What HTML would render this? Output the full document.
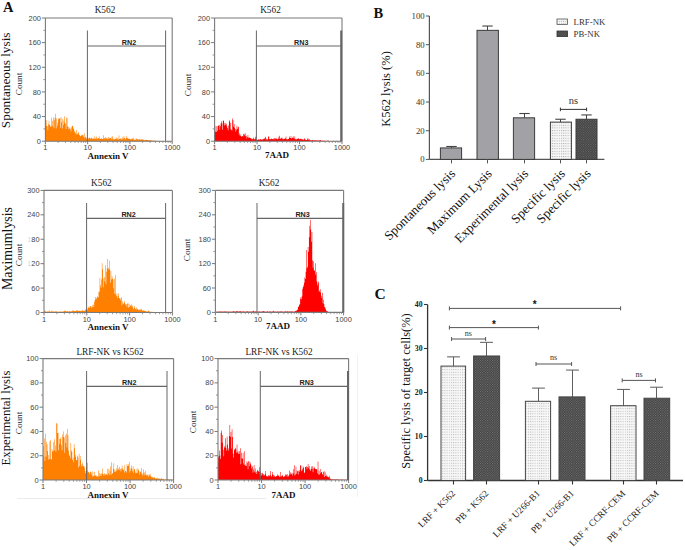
<!DOCTYPE html>
<html><head><meta charset="utf-8"><style>
html,body{margin:0;padding:0;background:#fff;}
body{width:685px;height:550px;overflow:hidden;}
svg{display:block;}
</style></head><body>
<svg width="685" height="550" viewBox="0 0 685 550">
<defs>
<pattern id="pl" width="2.2" height="2.6" patternUnits="userSpaceOnUse"><rect width="2.2" height="2.6" fill="#f7f7f7"/><rect width="1" height="1" fill="#aaaaaa"/></pattern>
<pattern id="pd" width="2.4" height="2.4" patternUnits="userSpaceOnUse"><rect width="2.4" height="2.4" fill="#3a3a3a"/><rect width="1" height="1" fill="#777"/><rect x="1.2" y="1.2" width="1" height="1" fill="#777"/></pattern>
<pattern id="cl" width="2.2" height="2.6" patternUnits="userSpaceOnUse"><rect width="2.2" height="2.6" fill="#f8f8f8"/><rect width="1" height="1" fill="#b8b8b8"/></pattern>
<pattern id="cd" width="2.4" height="2.4" patternUnits="userSpaceOnUse"><rect width="2.4" height="2.4" fill="#3c3c3c"/><rect width="1" height="1" fill="#808080"/><rect x="1.2" y="1.2" width="1" height="1" fill="#808080"/></pattern>
</defs>
<rect width="685" height="550" fill="#fff"/>
<path d="M45.40,141.20L45.40,120.39L45.95,120.39L45.95,120.21L46.50,120.21L46.50,125.97L47.05,125.97L47.05,125.98L47.61,125.98L47.61,130.26L48.16,130.26L48.16,124.18L48.71,124.18L48.71,121.06L49.26,121.06L49.26,124.86L49.81,124.86L49.81,125.32L50.36,125.32L50.36,126.88L50.91,126.88L50.91,126.55L51.46,126.55L51.46,117.84L52.02,117.84L52.02,120.87L52.57,120.87L52.57,126.33L53.12,126.33L53.12,117.56L53.67,117.56L53.67,128.18L54.22,128.18L54.22,119.73L54.77,119.73L54.77,117.81L55.32,117.81L55.32,113.70L55.87,113.70L55.87,128.57L56.43,128.57L56.43,118.24L56.98,118.24L56.98,125.84L57.53,125.84L57.53,122.48L58.08,122.48L58.08,119.16L58.63,119.16L58.63,118.15L59.18,118.15L59.18,118.46L59.73,118.46L59.73,118.13L60.29,118.13L60.29,127.73L60.84,127.73L60.84,117.07L61.39,117.07L61.39,122.25L61.94,122.25L61.94,128.62L62.49,128.62L62.49,119.07L63.04,119.07L63.04,125.11L63.59,125.11L63.59,120.46L64.14,120.46L64.14,116.32L64.70,116.32L64.70,122.83L65.25,122.83L65.25,123.74L65.80,123.74L65.80,129.02L66.35,129.02L66.35,117.62L66.90,117.62L66.90,118.22L67.45,118.22L67.45,126.49L68.00,126.49L68.00,127.07L68.55,127.07L68.55,129.31L69.11,129.31L69.11,128.50L69.66,128.50L69.66,127.20L70.21,127.20L70.21,129.20L70.76,129.20L70.76,131.45L71.31,131.45L71.31,127.58L71.86,127.58L71.86,126.03L72.41,126.03L72.41,125.78L72.97,125.78L72.97,129.07L73.52,129.07L73.52,127.86L74.07,127.86L74.07,130.86L74.62,130.86L74.62,132.49L75.17,132.49L75.17,132.55L75.72,132.55L75.72,134.17L76.27,134.17L76.27,129.88L76.82,129.88L76.82,134.54L77.38,134.54L77.38,133.16L77.93,133.16L77.93,133.44L78.48,133.44L78.48,131.91L79.03,131.91L79.03,134.88L79.58,134.88L79.58,135.33L80.13,135.33L80.13,136.37L80.68,136.37L80.68,136.12L81.23,136.12L81.23,135.31L81.79,135.31L81.79,134.85L82.34,134.85L82.34,135.22L82.89,135.22L82.89,135.00L83.44,135.00L83.44,136.68L83.99,136.68L83.99,132.98L84.54,132.98L84.54,138.24L85.09,138.24L85.09,136.73L85.65,136.73L85.65,137.08L86.20,137.08L86.20,138.80L86.75,138.80L86.75,138.48L87.30,138.48L87.30,137.89L87.85,137.89L87.85,138.15L88.40,138.15L88.40,138.78L88.95,138.78L88.95,137.95L89.50,137.95L89.50,137.70L90.06,137.70L90.06,138.22L90.61,138.22L90.61,138.94L91.16,138.94L91.16,137.77L91.71,137.77L91.71,137.68L92.26,137.68L92.26,138.84L92.81,138.84L92.81,138.80L93.36,138.80L93.36,138.57L93.91,138.57L93.91,136.13L94.47,136.13L94.47,138.98L95.02,138.98L95.02,138.69L95.57,138.69L95.57,137.83L96.12,137.83L96.12,136.55L96.67,136.55L96.67,139.03L97.22,139.03L97.22,138.40L97.77,138.40L97.77,138.36L98.33,138.36L98.33,138.12L98.88,138.12L98.88,136.28L99.43,136.28L99.43,138.65L99.98,138.65L99.98,139.12L100.53,139.12L100.53,138.82L101.08,138.82L101.08,138.43L101.63,138.43L101.63,138.20L102.18,138.20L102.18,139.02L102.74,139.02L102.74,139.09L103.29,139.09L103.29,135.25L103.84,135.25L103.84,138.15L104.39,138.15L104.39,138.45L104.94,138.45L104.94,136.91L105.49,136.91L105.49,138.53L106.04,138.53L106.04,137.85L106.59,137.85L106.59,138.65L107.15,138.65L107.15,138.28L107.70,138.28L107.70,139.33L108.25,139.33L108.25,136.98L108.80,136.98L108.80,138.62L109.35,138.62L109.35,137.88L109.90,137.88L109.90,138.17L110.45,138.17L110.45,138.09L111.01,138.09L111.01,139.54L111.56,139.54L111.56,136.64L112.11,136.64L112.11,136.16L112.66,136.16L112.66,139.13L113.21,139.13L113.21,139.42L113.76,139.42L113.76,138.46L114.31,138.46L114.31,139.54L114.86,139.54L114.86,138.41L115.42,138.41L115.42,138.93L115.97,138.93L115.97,137.27L116.52,137.27L116.52,138.89L117.07,138.89L117.07,138.08L117.62,138.08L117.62,139.58L118.17,139.58L118.17,139.51L118.72,139.51L118.72,135.53L119.27,135.53L119.27,139.04L119.83,139.04L119.83,138.96L120.38,138.96L120.38,138.13L120.93,138.13L120.93,139.49L121.48,139.49L121.48,138.57L122.03,138.57L122.03,137.28L122.58,137.28L122.58,139.48L123.13,139.48L123.13,138.60L123.69,138.60L123.69,135.93L124.24,135.93L124.24,138.10L124.79,138.10L124.79,138.48L125.34,138.48L125.34,139.61L125.89,139.61L125.89,135.66L126.44,135.66L126.44,138.07L126.99,138.07L126.99,138.39L127.54,138.39L127.54,137.25L128.10,137.25L128.10,138.75L128.65,138.75L128.65,138.84L129.20,138.84L129.20,138.71L129.75,138.71L129.75,138.92L130.30,138.92L130.30,139.61L130.85,139.61L130.85,138.82L131.40,138.82L131.40,139.35L131.95,139.35L131.95,138.29L132.51,138.29L132.51,138.89L133.06,138.89L133.06,137.83L133.61,137.83L133.61,139.63L134.16,139.63L134.16,139.85L134.71,139.85L134.71,139.79L135.26,139.79L135.26,139.83L135.81,139.83L135.81,138.05L136.37,138.05L136.37,139.15L136.92,139.15L136.92,139.61L137.47,139.61L137.47,138.90L138.02,138.90L138.02,139.85L138.57,139.85L138.57,138.97L139.12,138.97L139.12,139.27L139.67,139.27L139.67,139.78L140.22,139.78L140.22,139.47L140.78,139.47L140.78,139.48L141.33,139.48L141.33,139.25L141.88,139.25L141.88,139.13L142.43,139.13L142.43,139.85L142.98,139.85L142.98,139.71L143.53,139.71L143.53,139.62L144.08,139.62L144.08,140.26L144.63,140.26L144.63,140.29L145.19,140.29L145.19,139.63L145.74,139.63L145.74,139.83L146.29,139.83L146.29,140.08L146.84,140.08L146.84,139.98L147.39,139.98L147.39,140.01L147.94,140.01L147.94,140.30L148.49,140.30L148.49,140.30L149.05,140.30L149.05,140.02L149.60,140.02L149.60,140.17L150.15,140.17L150.15,140.18L150.70,140.18L150.70,140.23L151.25,140.23L151.25,140.54L151.80,140.54L151.80,140.53L152.35,140.53L152.35,140.77L152.90,140.77L152.90,140.58L153.46,140.58L153.46,140.47L154.01,140.47L154.01,140.76L154.56,140.76L154.56,140.72L155.11,140.72L155.11,140.81L155.66,140.81L155.66,140.63L156.21,140.63L156.21,140.86L156.76,140.86L156.76,140.90L157.31,140.90L157.31,140.84L157.87,140.84L157.87,140.91L158.42,140.91L158.42,140.97L158.97,140.97L158.97,141.02L159.52,141.02L159.52,140.78L160.07,140.78L160.07,140.95L160.62,140.95L160.62,141.07L161.17,141.07L161.17,141.04L161.73,141.04L161.73,141.02L162.28,141.02L162.28,141.05L162.83,141.05L162.83,141.06L163.38,141.06L163.38,141.09L163.93,141.09L163.93,141.06L164.48,141.06L164.48,141.03L165.03,141.03L165.03,141.06L165.58,141.06L165.58,141.09L166.14,141.09L166.14,140.95L166.69,140.95L166.69,141.06L167.24,141.06L167.24,141.11L167.79,141.11L167.79,141.07L168.34,141.07L168.34,141.04L168.89,141.04L168.89,141.10L169.44,141.10L169.44,141.05L169.99,141.05L169.99,141.06L170.55,141.06L170.55,141.10L171.10,141.10L171.10,141.06L171.65,141.06L171.65,141.02L172.20,141.02L172.20,141.20Z" fill="#ff8000"/>
<line x1="45.40" y1="18.00" x2="172.20" y2="18.00" stroke="#7a7a7a" stroke-width="1.1"/>
<line x1="172.20" y1="18.00" x2="172.20" y2="141.20" stroke="#7a7a7a" stroke-width="1.1"/>
<line x1="45.40" y1="18.00" x2="45.40" y2="141.20" stroke="#7a7a7a" stroke-width="1.1"/>
<line x1="45.40" y1="141.20" x2="172.20" y2="141.20" stroke="#7a7a7a" stroke-width="1.1"/>
<line x1="41.90" y1="141.20" x2="45.40" y2="141.20" stroke="#7a7a7a" stroke-width="1"/>
<text x="40.90" y="143.80" font-family='"Liberation Sans", sans-serif' font-size="7.4" font-weight="normal" text-anchor="end" fill="#444">0</text>
<line x1="43.40" y1="128.88" x2="45.40" y2="128.88" stroke="#7a7a7a" stroke-width="0.8"/>
<line x1="41.90" y1="116.56" x2="45.40" y2="116.56" stroke="#7a7a7a" stroke-width="1"/>
<text x="40.90" y="119.16" font-family='"Liberation Sans", sans-serif' font-size="7.4" font-weight="normal" text-anchor="end" fill="#444">40</text>
<line x1="43.40" y1="104.24" x2="45.40" y2="104.24" stroke="#7a7a7a" stroke-width="0.8"/>
<line x1="41.90" y1="91.92" x2="45.40" y2="91.92" stroke="#7a7a7a" stroke-width="1"/>
<text x="40.90" y="94.52" font-family='"Liberation Sans", sans-serif' font-size="7.4" font-weight="normal" text-anchor="end" fill="#444">80</text>
<line x1="43.40" y1="79.60" x2="45.40" y2="79.60" stroke="#7a7a7a" stroke-width="0.8"/>
<line x1="41.90" y1="67.28" x2="45.40" y2="67.28" stroke="#7a7a7a" stroke-width="1"/>
<text x="40.90" y="69.88" font-family='"Liberation Sans", sans-serif' font-size="7.4" font-weight="normal" text-anchor="end" fill="#444">120</text>
<line x1="43.40" y1="54.96" x2="45.40" y2="54.96" stroke="#7a7a7a" stroke-width="0.8"/>
<line x1="41.90" y1="42.64" x2="45.40" y2="42.64" stroke="#7a7a7a" stroke-width="1"/>
<text x="40.90" y="45.24" font-family='"Liberation Sans", sans-serif' font-size="7.4" font-weight="normal" text-anchor="end" fill="#444">160</text>
<line x1="43.40" y1="30.32" x2="45.40" y2="30.32" stroke="#7a7a7a" stroke-width="0.8"/>
<line x1="41.90" y1="18.00" x2="45.40" y2="18.00" stroke="#7a7a7a" stroke-width="1"/>
<text x="40.90" y="20.60" font-family='"Liberation Sans", sans-serif' font-size="7.4" font-weight="normal" text-anchor="end" fill="#444">200</text>
<line x1="45.40" y1="141.20" x2="45.40" y2="144.20" stroke="#7a7a7a" stroke-width="1"/>
<text x="45.40" y="150.40" font-family='"Liberation Sans", sans-serif' font-size="7.4" font-weight="normal" text-anchor="middle" fill="#444">1</text>
<line x1="58.12" y1="141.20" x2="58.12" y2="143.00" stroke="#7a7a7a" stroke-width="0.7"/>
<line x1="65.57" y1="141.20" x2="65.57" y2="143.00" stroke="#7a7a7a" stroke-width="0.7"/>
<line x1="70.85" y1="141.20" x2="70.85" y2="143.00" stroke="#7a7a7a" stroke-width="0.7"/>
<line x1="74.94" y1="141.20" x2="74.94" y2="143.00" stroke="#7a7a7a" stroke-width="0.7"/>
<line x1="78.29" y1="141.20" x2="78.29" y2="143.00" stroke="#7a7a7a" stroke-width="0.7"/>
<line x1="81.12" y1="141.20" x2="81.12" y2="143.00" stroke="#7a7a7a" stroke-width="0.7"/>
<line x1="83.57" y1="141.20" x2="83.57" y2="143.00" stroke="#7a7a7a" stroke-width="0.7"/>
<line x1="85.73" y1="141.20" x2="85.73" y2="143.00" stroke="#7a7a7a" stroke-width="0.7"/>
<line x1="87.67" y1="141.20" x2="87.67" y2="144.20" stroke="#7a7a7a" stroke-width="1"/>
<text x="87.67" y="150.40" font-family='"Liberation Sans", sans-serif' font-size="7.4" font-weight="normal" text-anchor="middle" fill="#444">10</text>
<line x1="100.39" y1="141.20" x2="100.39" y2="143.00" stroke="#7a7a7a" stroke-width="0.7"/>
<line x1="107.83" y1="141.20" x2="107.83" y2="143.00" stroke="#7a7a7a" stroke-width="0.7"/>
<line x1="113.11" y1="141.20" x2="113.11" y2="143.00" stroke="#7a7a7a" stroke-width="0.7"/>
<line x1="117.21" y1="141.20" x2="117.21" y2="143.00" stroke="#7a7a7a" stroke-width="0.7"/>
<line x1="120.56" y1="141.20" x2="120.56" y2="143.00" stroke="#7a7a7a" stroke-width="0.7"/>
<line x1="123.39" y1="141.20" x2="123.39" y2="143.00" stroke="#7a7a7a" stroke-width="0.7"/>
<line x1="125.84" y1="141.20" x2="125.84" y2="143.00" stroke="#7a7a7a" stroke-width="0.7"/>
<line x1="128.00" y1="141.20" x2="128.00" y2="143.00" stroke="#7a7a7a" stroke-width="0.7"/>
<line x1="129.93" y1="141.20" x2="129.93" y2="144.20" stroke="#7a7a7a" stroke-width="1"/>
<text x="129.93" y="150.40" font-family='"Liberation Sans", sans-serif' font-size="7.4" font-weight="normal" text-anchor="middle" fill="#444">100</text>
<line x1="142.66" y1="141.20" x2="142.66" y2="143.00" stroke="#7a7a7a" stroke-width="0.7"/>
<line x1="150.10" y1="141.20" x2="150.10" y2="143.00" stroke="#7a7a7a" stroke-width="0.7"/>
<line x1="155.38" y1="141.20" x2="155.38" y2="143.00" stroke="#7a7a7a" stroke-width="0.7"/>
<line x1="159.48" y1="141.20" x2="159.48" y2="143.00" stroke="#7a7a7a" stroke-width="0.7"/>
<line x1="162.82" y1="141.20" x2="162.82" y2="143.00" stroke="#7a7a7a" stroke-width="0.7"/>
<line x1="165.65" y1="141.20" x2="165.65" y2="143.00" stroke="#7a7a7a" stroke-width="0.7"/>
<line x1="168.10" y1="141.20" x2="168.10" y2="143.00" stroke="#7a7a7a" stroke-width="0.7"/>
<line x1="170.27" y1="141.20" x2="170.27" y2="143.00" stroke="#7a7a7a" stroke-width="0.7"/>
<line x1="172.20" y1="141.20" x2="172.20" y2="144.20" stroke="#7a7a7a" stroke-width="1"/>
<text x="172.20" y="150.40" font-family='"Liberation Sans", sans-serif' font-size="7.4" font-weight="normal" text-anchor="middle" fill="#444">1000</text>
<line x1="87.40" y1="30.50" x2="87.40" y2="141.20" stroke="#666" stroke-width="1"/>
<line x1="165.60" y1="30.50" x2="165.60" y2="141.20" stroke="#666" stroke-width="1"/>
<line x1="87.40" y1="46.00" x2="165.60" y2="46.00" stroke="#666" stroke-width="1.1"/>
<text x="129.00" y="44.90" font-family='"Liberation Sans", sans-serif' font-size="7.2" font-weight="bold" text-anchor="middle" fill="#222">RN2</text>
<text x="105.00" y="12.50" font-family='"Liberation Serif", serif' font-size="9.3" font-weight="normal" text-anchor="middle" fill="#222">K562</text>
<text x="108.00" y="158.50" font-family='"Liberation Serif", serif' font-size="9" font-weight="bold" text-anchor="middle" fill="#111">Annexin V</text>
<text x="22.00" y="84.00" font-family='"Liberation Serif", serif' font-size="9.2" font-weight="normal" text-anchor="middle" fill="#222" transform="rotate(-90 22 84)">Count</text>
<path d="M214.60,141.20L214.60,130.33L215.15,130.33L215.15,132.03L215.70,132.03L215.70,126.00L216.25,126.00L216.25,132.08L216.81,132.08L216.81,126.19L217.36,126.19L217.36,130.87L217.91,130.87L217.91,125.61L218.46,125.61L218.46,125.74L219.01,125.74L219.01,125.00L219.56,125.00L219.56,129.86L220.12,129.86L220.12,126.28L220.67,126.28L220.67,123.18L221.22,123.18L221.22,121.23L221.77,121.23L221.77,123.41L222.32,123.41L222.32,129.71L222.87,129.71L222.87,120.58L223.42,120.58L223.42,120.63L223.98,120.63L223.98,125.52L224.53,125.52L224.53,123.01L225.08,123.01L225.08,124.72L225.63,124.72L225.63,122.78L226.18,122.78L226.18,124.36L226.73,124.36L226.73,126.42L227.28,126.42L227.28,128.01L227.84,128.01L227.84,130.21L228.39,130.21L228.39,125.58L228.94,125.58L228.94,121.50L229.49,121.50L229.49,120.19L230.04,120.19L230.04,122.82L230.59,122.82L230.59,129.28L231.15,129.28L231.15,129.68L231.70,129.68L231.70,130.62L232.25,130.62L232.25,118.49L232.80,118.49L232.80,120.35L233.35,120.35L233.35,126.38L233.90,126.38L233.90,123.95L234.45,123.95L234.45,127.86L235.01,127.86L235.01,128.98L235.56,128.98L235.56,131.80L236.11,131.80L236.11,129.63L236.66,129.63L236.66,125.75L237.21,125.75L237.21,129.05L237.76,129.05L237.76,127.23L238.32,127.23L238.32,126.73L238.87,126.73L238.87,135.27L239.42,135.27L239.42,133.34L239.97,133.34L239.97,135.94L240.52,135.94L240.52,134.62L241.07,134.62L241.07,136.76L241.62,136.76L241.62,136.14L242.18,136.14L242.18,136.12L242.73,136.12L242.73,136.44L243.28,136.44L243.28,134.07L243.83,134.07L243.83,133.83L244.38,133.83L244.38,135.33L244.93,135.33L244.93,133.30L245.48,133.30L245.48,136.20L246.04,136.20L246.04,135.85L246.59,135.85L246.59,138.45L247.14,138.45L247.14,137.10L247.69,137.10L247.69,134.92L248.24,134.92L248.24,137.99L248.79,137.99L248.79,137.11L249.35,137.11L249.35,137.85L249.90,137.85L249.90,138.29L250.45,138.29L250.45,137.99L251.00,137.99L251.00,139.25L251.55,139.25L251.55,138.34L252.10,138.34L252.10,139.15L252.65,139.15L252.65,139.07L253.21,139.07L253.21,137.56L253.76,137.56L253.76,138.68L254.31,138.68L254.31,139.44L254.86,139.44L254.86,138.75L255.41,138.75L255.41,136.83L255.96,136.83L255.96,139.76L256.52,139.76L256.52,139.73L257.07,139.73L257.07,140.08L257.62,140.08L257.62,139.48L258.17,139.48L258.17,139.33L258.72,139.33L258.72,139.83L259.27,139.83L259.27,139.63L259.82,139.63L259.82,138.90L260.38,138.90L260.38,139.14L260.93,139.14L260.93,139.70L261.48,139.70L261.48,139.48L262.03,139.48L262.03,139.15L262.58,139.15L262.58,139.78L263.13,139.78L263.13,139.05L263.68,139.05L263.68,138.69L264.24,138.69L264.24,138.70L264.79,138.70L264.79,137.82L265.34,137.82L265.34,136.71L265.89,136.71L265.89,139.85L266.44,139.85L266.44,138.78L266.99,138.78L266.99,139.43L267.55,139.43L267.55,139.46L268.10,139.46L268.10,136.56L268.65,136.56L268.65,136.59L269.20,136.59L269.20,139.00L269.75,139.00L269.75,139.37L270.30,139.37L270.30,139.17L270.85,139.17L270.85,138.95L271.41,138.95L271.41,138.40L271.96,138.40L271.96,139.22L272.51,139.22L272.51,139.09L273.06,139.09L273.06,138.41L273.61,138.41L273.61,139.62L274.16,139.62L274.16,137.97L274.72,137.97L274.72,139.34L275.27,139.34L275.27,138.54L275.82,138.54L275.82,137.86L276.37,137.86L276.37,139.11L276.92,139.11L276.92,138.75L277.47,138.75L277.47,139.40L278.02,139.40L278.02,138.84L278.58,138.84L278.58,136.87L279.13,136.87L279.13,135.85L279.68,135.85L279.68,139.06L280.23,139.06L280.23,138.72L280.78,138.72L280.78,137.78L281.33,137.78L281.33,138.31L281.88,138.31L281.88,137.77L282.44,137.77L282.44,139.21L282.99,139.21L282.99,139.21L283.54,139.21L283.54,138.94L284.09,138.94L284.09,138.66L284.64,138.66L284.64,138.73L285.19,138.73L285.19,138.15L285.75,138.15L285.75,136.57L286.30,136.57L286.30,139.17L286.85,139.17L286.85,139.17L287.40,139.17L287.40,139.40L287.95,139.40L287.95,138.83L288.50,138.83L288.50,139.10L289.05,139.10L289.05,136.50L289.61,136.50L289.61,137.96L290.16,137.96L290.16,137.94L290.71,137.94L290.71,136.07L291.26,136.07L291.26,138.69L291.81,138.69L291.81,137.85L292.36,137.85L292.36,137.76L292.92,137.76L292.92,136.27L293.47,136.27L293.47,138.19L294.02,138.19L294.02,138.60L294.57,138.60L294.57,136.53L295.12,136.53L295.12,139.32L295.67,139.32L295.67,139.13L296.22,139.13L296.22,139.38L296.78,139.38L296.78,138.47L297.33,138.47L297.33,139.03L297.88,139.03L297.88,138.74L298.43,138.74L298.43,138.31L298.98,138.31L298.98,138.79L299.53,138.79L299.53,139.38L300.08,139.38L300.08,138.84L300.64,138.84L300.64,139.04L301.19,139.04L301.19,138.68L301.74,138.68L301.74,139.83L302.29,139.83L302.29,138.89L302.84,138.89L302.84,139.67L303.39,139.67L303.39,139.84L303.95,139.84L303.95,138.13L304.50,138.13L304.50,139.37L305.05,139.37L305.05,139.37L305.60,139.37L305.60,140.07L306.15,140.07L306.15,139.98L306.70,139.98L306.70,140.06L307.25,140.06L307.25,138.50L307.81,138.50L307.81,138.43L308.36,138.43L308.36,139.76L308.91,139.76L308.91,138.88L309.46,138.88L309.46,140.36L310.01,140.36L310.01,140.37L310.56,140.37L310.56,140.22L311.12,140.22L311.12,140.42L311.67,140.42L311.67,139.98L312.22,139.98L312.22,140.24L312.77,140.24L312.77,140.11L313.32,140.11L313.32,140.40L313.87,140.40L313.87,140.49L314.42,140.49L314.42,140.26L314.98,140.26L314.98,140.26L315.53,140.26L315.53,140.18L316.08,140.18L316.08,140.56L316.63,140.56L316.63,140.25L317.18,140.25L317.18,140.63L317.73,140.63L317.73,140.30L318.28,140.30L318.28,140.55L318.84,140.55L318.84,140.37L319.39,140.37L319.39,140.56L319.94,140.56L319.94,140.26L320.49,140.26L320.49,140.01L321.04,140.01L321.04,140.81L321.59,140.81L321.59,140.81L322.15,140.81L322.15,140.57L322.70,140.57L322.70,140.82L323.25,140.82L323.25,140.79L323.80,140.79L323.80,140.83L324.35,140.83L324.35,140.85L324.90,140.85L324.90,140.77L325.45,140.77L325.45,140.93L326.01,140.93L326.01,140.71L326.56,140.71L326.56,140.93L327.11,140.93L327.11,140.61L327.66,140.61L327.66,140.99L328.21,140.99L328.21,140.59L328.76,140.59L328.76,140.93L329.32,140.93L329.32,140.98L329.87,140.98L329.87,140.96L330.42,140.96L330.42,140.98L330.97,140.98L330.97,140.92L331.52,140.92L331.52,141.05L332.07,141.05L332.07,140.95L332.62,140.95L332.62,141.04L333.18,141.04L333.18,140.81L333.73,140.81L333.73,140.97L334.28,140.97L334.28,140.99L334.83,140.99L334.83,140.99L335.38,140.99L335.38,141.04L335.93,141.04L335.93,140.87L336.48,140.87L336.48,140.95L337.04,140.95L337.04,141.09L337.59,141.09L337.59,141.02L338.14,141.02L338.14,141.03L338.69,141.03L338.69,141.11L339.24,141.11L339.24,141.05L339.79,141.05L339.79,141.10L340.35,141.10L340.35,141.09L340.90,141.09L340.90,141.09L341.45,141.09L341.45,141.07L342.00,141.07L342.00,141.20Z" fill="#ff0000"/>
<line x1="214.60" y1="18.00" x2="342.00" y2="18.00" stroke="#7a7a7a" stroke-width="1.1"/>
<line x1="342.00" y1="18.00" x2="342.00" y2="141.20" stroke="#7a7a7a" stroke-width="1.1"/>
<line x1="214.60" y1="18.00" x2="214.60" y2="141.20" stroke="#7a7a7a" stroke-width="1.1"/>
<line x1="214.60" y1="141.20" x2="342.00" y2="141.20" stroke="#7a7a7a" stroke-width="1.1"/>
<line x1="211.10" y1="141.20" x2="214.60" y2="141.20" stroke="#7a7a7a" stroke-width="1"/>
<text x="210.10" y="143.80" font-family='"Liberation Sans", sans-serif' font-size="7.4" font-weight="normal" text-anchor="end" fill="#444">0</text>
<line x1="212.60" y1="128.88" x2="214.60" y2="128.88" stroke="#7a7a7a" stroke-width="0.8"/>
<line x1="211.10" y1="116.56" x2="214.60" y2="116.56" stroke="#7a7a7a" stroke-width="1"/>
<text x="210.10" y="119.16" font-family='"Liberation Sans", sans-serif' font-size="7.4" font-weight="normal" text-anchor="end" fill="#444">40</text>
<line x1="212.60" y1="104.24" x2="214.60" y2="104.24" stroke="#7a7a7a" stroke-width="0.8"/>
<line x1="211.10" y1="91.92" x2="214.60" y2="91.92" stroke="#7a7a7a" stroke-width="1"/>
<text x="210.10" y="94.52" font-family='"Liberation Sans", sans-serif' font-size="7.4" font-weight="normal" text-anchor="end" fill="#444">80</text>
<line x1="212.60" y1="79.60" x2="214.60" y2="79.60" stroke="#7a7a7a" stroke-width="0.8"/>
<line x1="211.10" y1="67.28" x2="214.60" y2="67.28" stroke="#7a7a7a" stroke-width="1"/>
<text x="210.10" y="69.88" font-family='"Liberation Sans", sans-serif' font-size="7.4" font-weight="normal" text-anchor="end" fill="#444">120</text>
<line x1="212.60" y1="54.96" x2="214.60" y2="54.96" stroke="#7a7a7a" stroke-width="0.8"/>
<line x1="211.10" y1="42.64" x2="214.60" y2="42.64" stroke="#7a7a7a" stroke-width="1"/>
<text x="210.10" y="45.24" font-family='"Liberation Sans", sans-serif' font-size="7.4" font-weight="normal" text-anchor="end" fill="#444">160</text>
<line x1="212.60" y1="30.32" x2="214.60" y2="30.32" stroke="#7a7a7a" stroke-width="0.8"/>
<line x1="211.10" y1="18.00" x2="214.60" y2="18.00" stroke="#7a7a7a" stroke-width="1"/>
<text x="210.10" y="20.60" font-family='"Liberation Sans", sans-serif' font-size="7.4" font-weight="normal" text-anchor="end" fill="#444">200</text>
<line x1="214.60" y1="141.20" x2="214.60" y2="144.20" stroke="#7a7a7a" stroke-width="1"/>
<text x="214.60" y="150.40" font-family='"Liberation Sans", sans-serif' font-size="7.4" font-weight="normal" text-anchor="middle" fill="#444">1</text>
<line x1="227.38" y1="141.20" x2="227.38" y2="143.00" stroke="#7a7a7a" stroke-width="0.7"/>
<line x1="234.86" y1="141.20" x2="234.86" y2="143.00" stroke="#7a7a7a" stroke-width="0.7"/>
<line x1="240.17" y1="141.20" x2="240.17" y2="143.00" stroke="#7a7a7a" stroke-width="0.7"/>
<line x1="244.28" y1="141.20" x2="244.28" y2="143.00" stroke="#7a7a7a" stroke-width="0.7"/>
<line x1="247.65" y1="141.20" x2="247.65" y2="143.00" stroke="#7a7a7a" stroke-width="0.7"/>
<line x1="250.49" y1="141.20" x2="250.49" y2="143.00" stroke="#7a7a7a" stroke-width="0.7"/>
<line x1="252.95" y1="141.20" x2="252.95" y2="143.00" stroke="#7a7a7a" stroke-width="0.7"/>
<line x1="255.12" y1="141.20" x2="255.12" y2="143.00" stroke="#7a7a7a" stroke-width="0.7"/>
<line x1="257.07" y1="141.20" x2="257.07" y2="144.20" stroke="#7a7a7a" stroke-width="1"/>
<text x="257.07" y="150.40" font-family='"Liberation Sans", sans-serif' font-size="7.4" font-weight="normal" text-anchor="middle" fill="#444">10</text>
<line x1="269.85" y1="141.20" x2="269.85" y2="143.00" stroke="#7a7a7a" stroke-width="0.7"/>
<line x1="277.33" y1="141.20" x2="277.33" y2="143.00" stroke="#7a7a7a" stroke-width="0.7"/>
<line x1="282.63" y1="141.20" x2="282.63" y2="143.00" stroke="#7a7a7a" stroke-width="0.7"/>
<line x1="286.75" y1="141.20" x2="286.75" y2="143.00" stroke="#7a7a7a" stroke-width="0.7"/>
<line x1="290.11" y1="141.20" x2="290.11" y2="143.00" stroke="#7a7a7a" stroke-width="0.7"/>
<line x1="292.96" y1="141.20" x2="292.96" y2="143.00" stroke="#7a7a7a" stroke-width="0.7"/>
<line x1="295.42" y1="141.20" x2="295.42" y2="143.00" stroke="#7a7a7a" stroke-width="0.7"/>
<line x1="297.59" y1="141.20" x2="297.59" y2="143.00" stroke="#7a7a7a" stroke-width="0.7"/>
<line x1="299.53" y1="141.20" x2="299.53" y2="144.20" stroke="#7a7a7a" stroke-width="1"/>
<text x="299.53" y="150.40" font-family='"Liberation Sans", sans-serif' font-size="7.4" font-weight="normal" text-anchor="middle" fill="#444">100</text>
<line x1="312.32" y1="141.20" x2="312.32" y2="143.00" stroke="#7a7a7a" stroke-width="0.7"/>
<line x1="319.80" y1="141.20" x2="319.80" y2="143.00" stroke="#7a7a7a" stroke-width="0.7"/>
<line x1="325.10" y1="141.20" x2="325.10" y2="143.00" stroke="#7a7a7a" stroke-width="0.7"/>
<line x1="329.22" y1="141.20" x2="329.22" y2="143.00" stroke="#7a7a7a" stroke-width="0.7"/>
<line x1="332.58" y1="141.20" x2="332.58" y2="143.00" stroke="#7a7a7a" stroke-width="0.7"/>
<line x1="335.42" y1="141.20" x2="335.42" y2="143.00" stroke="#7a7a7a" stroke-width="0.7"/>
<line x1="337.88" y1="141.20" x2="337.88" y2="143.00" stroke="#7a7a7a" stroke-width="0.7"/>
<line x1="340.06" y1="141.20" x2="340.06" y2="143.00" stroke="#7a7a7a" stroke-width="0.7"/>
<line x1="342.00" y1="141.20" x2="342.00" y2="144.20" stroke="#7a7a7a" stroke-width="1"/>
<text x="342.00" y="150.40" font-family='"Liberation Sans", sans-serif' font-size="7.4" font-weight="normal" text-anchor="middle" fill="#444">1000</text>
<line x1="256.40" y1="30.50" x2="256.40" y2="141.20" stroke="#666" stroke-width="1"/>
<line x1="341.20" y1="30.50" x2="341.20" y2="141.20" stroke="#666" stroke-width="2"/>
<line x1="256.40" y1="46.00" x2="341.20" y2="46.00" stroke="#666" stroke-width="1.1"/>
<text x="301.30" y="44.90" font-family='"Liberation Sans", sans-serif' font-size="7.2" font-weight="bold" text-anchor="middle" fill="#222">RN3</text>
<text x="270.50" y="12.50" font-family='"Liberation Serif", serif' font-size="9.3" font-weight="normal" text-anchor="middle" fill="#222">K562</text>
<text x="277.00" y="158.00" font-family='"Liberation Serif", serif' font-size="9" font-weight="bold" text-anchor="middle" fill="#111">7AAD</text>
<text x="191.00" y="85.00" font-family='"Liberation Serif", serif' font-size="9.2" font-weight="normal" text-anchor="middle" fill="#222" transform="rotate(-90 191 85)">Count</text>
<path d="M44.00,312.50L44.00,311.00L44.55,311.00L44.55,311.58L45.10,311.58L45.10,310.85L45.65,310.85L45.65,311.83L46.20,311.83L46.20,311.86L46.76,311.86L46.76,311.60L47.31,311.60L47.31,311.55L47.86,311.55L47.86,311.31L48.41,311.31L48.41,311.50L48.96,311.50L48.96,311.73L49.51,311.73L49.51,310.37L50.06,310.37L50.06,311.70L50.61,311.70L50.61,311.52L51.16,311.52L51.16,311.40L51.72,311.40L51.72,310.54L52.27,310.54L52.27,311.84L52.82,311.84L52.82,311.28L53.37,311.28L53.37,311.47L53.92,311.47L53.92,311.39L54.47,311.39L54.47,311.74L55.02,311.74L55.02,311.44L55.57,311.44L55.57,311.32L56.12,311.32L56.12,311.36L56.67,311.36L56.67,311.80L57.23,311.80L57.23,311.60L57.78,311.60L57.78,311.77L58.33,311.77L58.33,311.66L58.88,311.66L58.88,311.67L59.43,311.67L59.43,311.58L59.98,311.58L59.98,311.72L60.53,311.72L60.53,311.32L61.08,311.32L61.08,311.45L61.63,311.45L61.63,311.70L62.19,311.70L62.19,311.72L62.74,311.72L62.74,311.39L63.29,311.39L63.29,311.14L63.84,311.14L63.84,311.26L64.39,311.26L64.39,310.61L64.94,310.61L64.94,310.75L65.49,310.75L65.49,311.17L66.04,311.17L66.04,311.57L66.59,311.57L66.59,311.11L67.15,311.11L67.15,311.18L67.70,311.18L67.70,311.28L68.25,311.28L68.25,311.67L68.80,311.67L68.80,311.38L69.35,311.38L69.35,311.08L69.90,311.08L69.90,311.18L70.45,311.18L70.45,311.45L71.00,311.45L71.00,311.50L71.55,311.50L71.55,311.07L72.10,311.07L72.10,311.18L72.66,311.18L72.66,309.65L73.21,309.65L73.21,310.76L73.76,310.76L73.76,311.11L74.31,311.11L74.31,311.07L74.86,311.07L74.86,311.09L75.41,311.09L75.41,311.36L75.96,311.36L75.96,310.38L76.51,310.38L76.51,310.55L77.06,310.55L77.06,310.39L77.62,310.39L77.62,310.39L78.17,310.39L78.17,311.05L78.72,311.05L78.72,310.91L79.27,310.91L79.27,310.59L79.82,310.59L79.82,310.50L80.37,310.50L80.37,311.15L80.92,311.15L80.92,310.74L81.47,310.74L81.47,311.12L82.02,311.12L82.02,310.51L82.58,310.51L82.58,310.27L83.13,310.27L83.13,310.90L83.68,310.90L83.68,310.81L84.23,310.81L84.23,310.68L84.78,310.68L84.78,310.65L85.33,310.65L85.33,309.30L85.88,309.30L85.88,310.06L86.43,310.06L86.43,309.01L86.98,309.01L86.98,310.22L87.53,310.22L87.53,308.21L88.09,308.21L88.09,306.82L88.64,306.82L88.64,307.69L89.19,307.69L89.19,308.00L89.74,308.00L89.74,305.93L90.29,305.93L90.29,306.21L90.84,306.21L90.84,306.47L91.39,306.47L91.39,307.73L91.94,307.73L91.94,307.27L92.49,307.27L92.49,304.92L93.05,304.92L93.05,304.43L93.60,304.43L93.60,306.91L94.15,306.91L94.15,301.83L94.70,301.83L94.70,299.83L95.25,299.83L95.25,296.93L95.80,296.93L95.80,299.24L96.35,299.24L96.35,298.21L96.90,298.21L96.90,296.80L97.45,296.80L97.45,296.50L98.01,296.50L98.01,297.40L98.56,297.40L98.56,291.79L99.11,291.79L99.11,291.72L99.66,291.72L99.66,277.66L100.21,277.66L100.21,285.13L100.76,285.13L100.76,287.74L101.31,287.74L101.31,279.32L101.86,279.32L101.86,263.37L102.41,263.37L102.41,269.16L102.96,269.16L102.96,287.26L103.52,287.26L103.52,278.43L104.07,278.43L104.07,277.10L104.62,277.10L104.62,281.61L105.17,281.61L105.17,265.12L105.72,265.12L105.72,284.29L106.27,284.29L106.27,271.81L106.82,271.81L106.82,268.31L107.37,268.31L107.37,259.07L107.92,259.07L107.92,269.62L108.48,269.62L108.48,267.83L109.03,267.83L109.03,260.51L109.58,260.51L109.58,269.38L110.13,269.38L110.13,282.66L110.68,282.66L110.68,271.01L111.23,271.01L111.23,279.40L111.78,279.40L111.78,276.12L112.33,276.12L112.33,278.48L112.88,278.48L112.88,279.53L113.44,279.53L113.44,288.21L113.99,288.21L113.99,278.59L114.54,278.59L114.54,293.87L115.09,293.87L115.09,275.05L115.64,275.05L115.64,294.50L116.19,294.50L116.19,296.15L116.74,296.15L116.74,293.26L117.29,293.26L117.29,298.10L117.84,298.10L117.84,296.03L118.39,296.03L118.39,293.43L118.95,293.43L118.95,297.98L119.50,297.98L119.50,298.58L120.05,298.58L120.05,300.33L120.60,300.33L120.60,298.37L121.15,298.37L121.15,297.36L121.70,297.36L121.70,305.50L122.25,305.50L122.25,301.47L122.80,301.47L122.80,303.53L123.35,303.53L123.35,303.88L123.91,303.88L123.91,302.79L124.46,302.79L124.46,301.08L125.01,301.08L125.01,304.85L125.56,304.85L125.56,303.65L126.11,303.65L126.11,304.21L126.66,304.21L126.66,306.98L127.21,306.98L127.21,303.68L127.76,303.68L127.76,302.78L128.31,302.78L128.31,307.67L128.87,307.67L128.87,303.98L129.42,303.98L129.42,307.06L129.97,307.06L129.97,305.39L130.52,305.39L130.52,305.60L131.07,305.60L131.07,304.27L131.62,304.27L131.62,306.80L132.17,306.80L132.17,305.43L132.72,305.43L132.72,307.51L133.27,307.51L133.27,309.18L133.82,309.18L133.82,307.93L134.38,307.93L134.38,306.03L134.93,306.03L134.93,309.31L135.48,309.31L135.48,308.38L136.03,308.38L136.03,307.38L136.58,307.38L136.58,309.69L137.13,309.69L137.13,309.08L137.68,309.08L137.68,309.00L138.23,309.00L138.23,309.92L138.78,309.92L138.78,310.18L139.34,310.18L139.34,309.34L139.89,309.34L139.89,310.19L140.44,310.19L140.44,309.22L140.99,309.22L140.99,308.75L141.54,308.75L141.54,310.26L142.09,310.26L142.09,310.17L142.64,310.17L142.64,311.10L143.19,311.10L143.19,309.99L143.74,309.99L143.74,310.76L144.30,310.76L144.30,310.74L144.85,310.74L144.85,310.92L145.40,310.92L145.40,311.07L145.95,311.07L145.95,311.47L146.50,311.47L146.50,311.58L147.05,311.58L147.05,311.14L147.60,311.14L147.60,311.70L148.15,311.70L148.15,310.28L148.70,310.28L148.70,311.02L149.25,311.02L149.25,311.47L149.81,311.47L149.81,311.89L150.36,311.89L150.36,311.65L150.91,311.65L150.91,311.86L151.46,311.86L151.46,311.77L152.01,311.77L152.01,312.17L152.56,312.17L152.56,311.71L153.11,311.71L153.11,312.13L153.66,312.13L153.66,312.21L154.21,312.21L154.21,312.23L154.77,312.23L154.77,312.23L155.32,312.23L155.32,312.26L155.87,312.26L155.87,312.15L156.42,312.15L156.42,312.23L156.97,312.23L156.97,312.12L157.52,312.12L157.52,312.28L158.07,312.28L158.07,312.20L158.62,312.20L158.62,312.21L159.17,312.21L159.17,312.17L159.73,312.17L159.73,312.21L160.28,312.21L160.28,312.10L160.83,312.10L160.83,312.10L161.38,312.10L161.38,312.28L161.93,312.28L161.93,312.28L162.48,312.28L162.48,312.35L163.03,312.35L163.03,312.23L163.58,312.23L163.58,312.30L164.13,312.30L164.13,312.26L164.68,312.26L164.68,312.32L165.24,312.32L165.24,312.32L165.79,312.32L165.79,312.30L166.34,312.30L166.34,312.27L166.89,312.27L166.89,312.38L167.44,312.38L167.44,312.39L167.99,312.39L167.99,312.31L168.54,312.31L168.54,312.34L169.09,312.34L169.09,312.19L169.64,312.19L169.64,312.38L170.20,312.38L170.20,312.41L170.75,312.41L170.75,312.35L171.30,312.35L171.30,312.31L171.85,312.31L171.85,312.38L172.40,312.38L172.40,312.50Z" fill="#ff8000"/>
<line x1="44.00" y1="190.40" x2="172.40" y2="190.40" stroke="#7a7a7a" stroke-width="1.1"/>
<line x1="172.40" y1="190.40" x2="172.40" y2="312.50" stroke="#7a7a7a" stroke-width="1.1"/>
<line x1="44.00" y1="190.40" x2="44.00" y2="312.50" stroke="#7a7a7a" stroke-width="1.1"/>
<line x1="44.00" y1="312.50" x2="172.40" y2="312.50" stroke="#7a7a7a" stroke-width="1.1"/>
<line x1="40.50" y1="312.50" x2="44.00" y2="312.50" stroke="#7a7a7a" stroke-width="1"/>
<text x="39.50" y="315.10" font-family='"Liberation Sans", sans-serif' font-size="7.4" font-weight="normal" text-anchor="end" fill="#444">0</text>
<line x1="42.00" y1="300.29" x2="44.00" y2="300.29" stroke="#7a7a7a" stroke-width="0.8"/>
<line x1="40.50" y1="288.08" x2="44.00" y2="288.08" stroke="#7a7a7a" stroke-width="1"/>
<text x="39.50" y="290.68" font-family='"Liberation Sans", sans-serif' font-size="7.4" font-weight="normal" text-anchor="end" fill="#444">60</text>
<line x1="42.00" y1="275.87" x2="44.00" y2="275.87" stroke="#7a7a7a" stroke-width="0.8"/>
<line x1="40.50" y1="263.66" x2="44.00" y2="263.66" stroke="#7a7a7a" stroke-width="1"/>
<text x="39.50" y="266.26" font-family='"Liberation Sans", sans-serif' font-size="7.4" font-weight="normal" text-anchor="end" fill="#444"><tspan fill-opacity="0.25">1</tspan>20</text>
<line x1="42.00" y1="251.45" x2="44.00" y2="251.45" stroke="#7a7a7a" stroke-width="0.8"/>
<line x1="40.50" y1="239.24" x2="44.00" y2="239.24" stroke="#7a7a7a" stroke-width="1"/>
<text x="39.50" y="241.84" font-family='"Liberation Sans", sans-serif' font-size="7.4" font-weight="normal" text-anchor="end" fill="#444"><tspan fill-opacity="0.25">1</tspan>80</text>
<line x1="42.00" y1="227.03" x2="44.00" y2="227.03" stroke="#7a7a7a" stroke-width="0.8"/>
<line x1="40.50" y1="214.82" x2="44.00" y2="214.82" stroke="#7a7a7a" stroke-width="1"/>
<text x="39.50" y="217.42" font-family='"Liberation Sans", sans-serif' font-size="7.4" font-weight="normal" text-anchor="end" fill="#444">240</text>
<line x1="42.00" y1="202.61" x2="44.00" y2="202.61" stroke="#7a7a7a" stroke-width="0.8"/>
<line x1="40.50" y1="190.40" x2="44.00" y2="190.40" stroke="#7a7a7a" stroke-width="1"/>
<text x="39.50" y="193.00" font-family='"Liberation Sans", sans-serif' font-size="7.4" font-weight="normal" text-anchor="end" fill="#444">300</text>
<line x1="44.00" y1="312.50" x2="44.00" y2="315.50" stroke="#7a7a7a" stroke-width="1"/>
<text x="44.00" y="321.70" font-family='"Liberation Sans", sans-serif' font-size="7.4" font-weight="normal" text-anchor="middle" fill="#444">1</text>
<line x1="56.88" y1="312.50" x2="56.88" y2="314.30" stroke="#7a7a7a" stroke-width="0.7"/>
<line x1="64.42" y1="312.50" x2="64.42" y2="314.30" stroke="#7a7a7a" stroke-width="0.7"/>
<line x1="69.77" y1="312.50" x2="69.77" y2="314.30" stroke="#7a7a7a" stroke-width="0.7"/>
<line x1="73.92" y1="312.50" x2="73.92" y2="314.30" stroke="#7a7a7a" stroke-width="0.7"/>
<line x1="77.30" y1="312.50" x2="77.30" y2="314.30" stroke="#7a7a7a" stroke-width="0.7"/>
<line x1="80.17" y1="312.50" x2="80.17" y2="314.30" stroke="#7a7a7a" stroke-width="0.7"/>
<line x1="82.65" y1="312.50" x2="82.65" y2="314.30" stroke="#7a7a7a" stroke-width="0.7"/>
<line x1="84.84" y1="312.50" x2="84.84" y2="314.30" stroke="#7a7a7a" stroke-width="0.7"/>
<line x1="86.80" y1="312.50" x2="86.80" y2="315.50" stroke="#7a7a7a" stroke-width="1"/>
<text x="86.80" y="321.70" font-family='"Liberation Sans", sans-serif' font-size="7.4" font-weight="normal" text-anchor="middle" fill="#444">10</text>
<line x1="99.68" y1="312.50" x2="99.68" y2="314.30" stroke="#7a7a7a" stroke-width="0.7"/>
<line x1="107.22" y1="312.50" x2="107.22" y2="314.30" stroke="#7a7a7a" stroke-width="0.7"/>
<line x1="112.57" y1="312.50" x2="112.57" y2="314.30" stroke="#7a7a7a" stroke-width="0.7"/>
<line x1="116.72" y1="312.50" x2="116.72" y2="314.30" stroke="#7a7a7a" stroke-width="0.7"/>
<line x1="120.10" y1="312.50" x2="120.10" y2="314.30" stroke="#7a7a7a" stroke-width="0.7"/>
<line x1="122.97" y1="312.50" x2="122.97" y2="314.30" stroke="#7a7a7a" stroke-width="0.7"/>
<line x1="125.45" y1="312.50" x2="125.45" y2="314.30" stroke="#7a7a7a" stroke-width="0.7"/>
<line x1="127.64" y1="312.50" x2="127.64" y2="314.30" stroke="#7a7a7a" stroke-width="0.7"/>
<line x1="129.60" y1="312.50" x2="129.60" y2="315.50" stroke="#7a7a7a" stroke-width="1"/>
<text x="129.60" y="321.70" font-family='"Liberation Sans", sans-serif' font-size="7.4" font-weight="normal" text-anchor="middle" fill="#444">100</text>
<line x1="142.48" y1="312.50" x2="142.48" y2="314.30" stroke="#7a7a7a" stroke-width="0.7"/>
<line x1="150.02" y1="312.50" x2="150.02" y2="314.30" stroke="#7a7a7a" stroke-width="0.7"/>
<line x1="155.37" y1="312.50" x2="155.37" y2="314.30" stroke="#7a7a7a" stroke-width="0.7"/>
<line x1="159.52" y1="312.50" x2="159.52" y2="314.30" stroke="#7a7a7a" stroke-width="0.7"/>
<line x1="162.90" y1="312.50" x2="162.90" y2="314.30" stroke="#7a7a7a" stroke-width="0.7"/>
<line x1="165.77" y1="312.50" x2="165.77" y2="314.30" stroke="#7a7a7a" stroke-width="0.7"/>
<line x1="168.25" y1="312.50" x2="168.25" y2="314.30" stroke="#7a7a7a" stroke-width="0.7"/>
<line x1="170.44" y1="312.50" x2="170.44" y2="314.30" stroke="#7a7a7a" stroke-width="0.7"/>
<line x1="172.40" y1="312.50" x2="172.40" y2="315.50" stroke="#7a7a7a" stroke-width="1"/>
<text x="172.40" y="321.70" font-family='"Liberation Sans", sans-serif' font-size="7.4" font-weight="normal" text-anchor="middle" fill="#444">1000</text>
<line x1="86.60" y1="203.00" x2="86.60" y2="312.50" stroke="#666" stroke-width="1"/>
<line x1="165.60" y1="203.00" x2="165.60" y2="312.50" stroke="#666" stroke-width="1"/>
<line x1="86.60" y1="218.40" x2="165.60" y2="218.40" stroke="#666" stroke-width="1.1"/>
<text x="128.60" y="217.30" font-family='"Liberation Sans", sans-serif' font-size="7.2" font-weight="bold" text-anchor="middle" fill="#222">RN2</text>
<text x="101.40" y="186.40" font-family='"Liberation Serif", serif' font-size="9.3" font-weight="normal" text-anchor="middle" fill="#222">K562</text>
<text x="108.00" y="329.50" font-family='"Liberation Serif", serif' font-size="9" font-weight="bold" text-anchor="middle" fill="#111">Annexin V</text>
<text x="21.50" y="255.00" font-family='"Liberation Serif", serif' font-size="9.2" font-weight="normal" text-anchor="middle" fill="#222" transform="rotate(-90 21.5 255)">Count</text>
<path d="M215.40,312.40L215.40,311.64L215.95,311.64L215.95,311.77L216.50,311.77L216.50,311.68L217.05,311.68L217.05,311.74L217.60,311.74L217.60,311.64L218.15,311.64L218.15,311.65L218.70,311.65L218.70,311.57L219.25,311.57L219.25,311.68L219.80,311.68L219.80,311.53L220.35,311.53L220.35,311.62L220.90,311.62L220.90,311.52L221.45,311.52L221.45,311.75L222.00,311.75L222.00,311.65L222.55,311.65L222.55,311.52L223.10,311.52L223.10,311.73L223.65,311.73L223.65,311.61L224.20,311.61L224.20,311.62L224.75,311.62L224.75,311.53L225.30,311.53L225.30,311.60L225.85,311.60L225.85,311.73L226.40,311.73L226.40,311.57L226.95,311.57L226.95,311.66L227.50,311.66L227.50,311.74L228.05,311.74L228.05,311.52L228.61,311.52L228.61,311.68L229.16,311.68L229.16,311.78L229.71,311.78L229.71,311.64L230.26,311.64L230.26,311.71L230.81,311.71L230.81,311.69L231.36,311.69L231.36,311.67L231.91,311.67L231.91,311.52L232.46,311.52L232.46,311.68L233.01,311.68L233.01,311.56L233.56,311.56L233.56,311.12L234.11,311.12L234.11,311.53L234.66,311.53L234.66,311.77L235.21,311.77L235.21,311.61L235.76,311.61L235.76,311.65L236.31,311.65L236.31,310.94L236.86,310.94L236.86,311.59L237.41,311.59L237.41,310.98L237.96,310.98L237.96,311.65L238.51,311.65L238.51,311.61L239.06,311.61L239.06,311.61L239.61,311.61L239.61,311.21L240.16,311.21L240.16,311.12L240.71,311.12L240.71,311.76L241.26,311.76L241.26,311.65L241.81,311.65L241.81,311.62L242.36,311.62L242.36,311.62L242.91,311.62L242.91,311.26L243.46,311.26L243.46,311.70L244.01,311.70L244.01,311.64L244.56,311.64L244.56,311.58L245.11,311.58L245.11,311.71L245.66,311.71L245.66,311.67L246.21,311.67L246.21,311.56L246.76,311.56L246.76,311.61L247.31,311.61L247.31,311.18L247.86,311.18L247.86,311.53L248.41,311.53L248.41,311.63L248.96,311.63L248.96,311.69L249.51,311.69L249.51,311.62L250.06,311.62L250.06,311.61L250.61,311.61L250.61,311.76L251.16,311.76L251.16,311.51L251.71,311.51L251.71,311.69L252.26,311.69L252.26,311.57L252.81,311.57L252.81,310.89L253.36,310.89L253.36,310.81L253.92,310.81L253.92,311.52L254.47,311.52L254.47,311.64L255.02,311.64L255.02,311.51L255.57,311.51L255.57,311.55L256.12,311.55L256.12,311.58L256.67,311.58L256.67,311.53L257.22,311.53L257.22,311.68L257.77,311.68L257.77,311.77L258.32,311.77L258.32,311.59L258.87,311.59L258.87,311.61L259.42,311.61L259.42,311.61L259.97,311.61L259.97,311.67L260.52,311.67L260.52,311.68L261.07,311.68L261.07,311.65L261.62,311.65L261.62,311.54L262.17,311.54L262.17,311.57L262.72,311.57L262.72,311.60L263.27,311.60L263.27,310.99L263.82,310.99L263.82,310.96L264.37,310.96L264.37,311.65L264.92,311.65L264.92,311.78L265.47,311.78L265.47,311.74L266.02,311.74L266.02,311.71L266.57,311.71L266.57,311.75L267.12,311.75L267.12,310.91L267.67,310.91L267.67,311.75L268.22,311.75L268.22,311.72L268.77,311.72L268.77,311.75L269.32,311.75L269.32,311.54L269.87,311.54L269.87,311.60L270.42,311.60L270.42,311.59L270.97,311.59L270.97,311.73L271.52,311.73L271.52,311.65L272.07,311.65L272.07,311.59L272.62,311.59L272.62,311.52L273.17,311.52L273.17,310.85L273.72,310.85L273.72,311.56L274.27,311.56L274.27,311.66L274.82,311.66L274.82,311.56L275.37,311.56L275.37,311.66L275.92,311.66L275.92,311.68L276.47,311.68L276.47,311.64L277.02,311.64L277.02,311.57L277.57,311.57L277.57,311.59L278.12,311.59L278.12,311.64L278.67,311.64L278.67,311.53L279.22,311.53L279.22,311.72L279.78,311.72L279.78,311.61L280.33,311.61L280.33,311.59L280.88,311.59L280.88,311.55L281.43,311.55L281.43,311.53L281.98,311.53L281.98,311.78L282.53,311.78L282.53,311.56L283.08,311.56L283.08,311.72L283.63,311.72L283.63,311.67L284.18,311.67L284.18,311.63L284.73,311.63L284.73,311.53L285.28,311.53L285.28,311.13L285.83,311.13L285.83,311.60L286.38,311.60L286.38,311.79L286.93,311.79L286.93,311.21L287.48,311.21L287.48,311.57L288.03,311.57L288.03,311.53L288.58,311.53L288.58,311.67L289.13,311.67L289.13,311.54L289.68,311.54L289.68,311.52L290.23,311.52L290.23,311.54L290.78,311.54L290.78,311.55L291.33,311.55L291.33,311.57L291.88,311.57L291.88,311.61L292.43,311.61L292.43,311.60L292.98,311.60L292.98,311.78L293.53,311.78L293.53,311.73L294.08,311.73L294.08,311.64L294.63,311.64L294.63,311.30L295.18,311.30L295.18,311.04L295.73,311.04L295.73,310.83L296.28,310.83L296.28,310.76L296.83,310.76L296.83,309.93L297.38,309.93L297.38,309.42L297.93,309.42L297.93,306.64L298.48,306.64L298.48,306.65L299.03,306.65L299.03,304.57L299.58,304.57L299.58,304.54L300.13,304.54L300.13,298.85L300.68,298.85L300.68,297.12L301.23,297.12L301.23,299.27L301.78,299.27L301.78,296.37L302.33,296.37L302.33,288.72L302.88,288.72L302.88,287.06L303.43,287.06L303.43,285.14L303.98,285.14L303.98,282.75L304.53,282.75L304.53,277.38L305.08,277.38L305.08,278.91L305.64,278.91L305.64,271.75L306.19,271.75L306.19,250.00L306.74,250.00L306.74,268.33L307.29,268.33L307.29,266.82L307.84,266.82L307.84,247.04L308.39,247.04L308.39,251.79L308.94,251.79L308.94,237.35L309.49,237.35L309.49,225.85L310.04,225.85L310.04,219.68L310.59,219.68L310.59,229.49L311.14,229.49L311.14,241.83L311.69,241.83L311.69,232.10L312.24,232.10L312.24,260.44L312.79,260.44L312.79,267.82L313.34,267.82L313.34,261.33L313.89,261.33L313.89,270.61L314.44,270.61L314.44,270.59L314.99,270.59L314.99,263.28L315.54,263.28L315.54,274.83L316.09,274.83L316.09,272.20L316.64,272.20L316.64,281.41L317.19,281.41L317.19,285.46L317.74,285.46L317.74,283.26L318.29,283.26L318.29,281.62L318.84,281.62L318.84,291.68L319.39,291.68L319.39,290.52L319.94,290.52L319.94,292.59L320.49,292.59L320.49,289.37L321.04,289.37L321.04,295.87L321.59,295.87L321.59,297.93L322.14,297.93L322.14,292.69L322.69,292.69L322.69,303.34L323.24,303.34L323.24,299.70L323.79,299.70L323.79,304.26L324.34,304.26L324.34,306.97L324.89,306.97L324.89,307.60L325.44,307.60L325.44,309.27L325.99,309.27L325.99,310.62L326.54,310.62L326.54,311.21L327.09,311.21L327.09,311.35L327.64,311.35L327.64,311.47L328.19,311.47L328.19,312.00L328.74,312.00L328.74,312.07L329.29,312.07L329.29,311.98L329.84,311.98L329.84,312.06L330.39,312.06L330.39,312.03L330.95,312.03L330.95,312.13L331.50,312.13L331.50,312.09L332.05,312.09L332.05,312.06L332.60,312.06L332.60,312.04L333.15,312.04L333.15,312.07L333.70,312.07L333.70,312.14L334.25,312.14L334.25,312.09L334.80,312.09L334.80,312.17L335.35,312.17L335.35,312.11L335.90,312.11L335.90,312.20L336.45,312.20L336.45,312.16L337.00,312.16L337.00,312.18L337.55,312.18L337.55,312.16L338.10,312.16L338.10,312.21L338.65,312.21L338.65,312.20L339.20,312.20L339.20,312.22L339.75,312.22L339.75,312.23L340.30,312.23L340.30,312.21L340.85,312.21L340.85,312.07L341.40,312.07L341.40,312.26L341.95,312.26L341.95,312.16L342.50,312.16L342.50,312.29L343.05,312.29L343.05,312.29L343.60,312.29L343.60,312.40Z" fill="#ff0000"/>
<line x1="215.40" y1="190.40" x2="343.60" y2="190.40" stroke="#7a7a7a" stroke-width="1.1"/>
<line x1="343.60" y1="190.40" x2="343.60" y2="312.40" stroke="#7a7a7a" stroke-width="1.1"/>
<line x1="215.40" y1="190.40" x2="215.40" y2="312.40" stroke="#7a7a7a" stroke-width="1.1"/>
<line x1="215.40" y1="312.40" x2="343.60" y2="312.40" stroke="#7a7a7a" stroke-width="1.1"/>
<line x1="211.90" y1="312.40" x2="215.40" y2="312.40" stroke="#7a7a7a" stroke-width="1"/>
<text x="210.90" y="315.00" font-family='"Liberation Sans", sans-serif' font-size="7.4" font-weight="normal" text-anchor="end" fill="#444">0</text>
<line x1="213.40" y1="300.20" x2="215.40" y2="300.20" stroke="#7a7a7a" stroke-width="0.8"/>
<line x1="211.90" y1="288.00" x2="215.40" y2="288.00" stroke="#7a7a7a" stroke-width="1"/>
<text x="210.90" y="290.60" font-family='"Liberation Sans", sans-serif' font-size="7.4" font-weight="normal" text-anchor="end" fill="#444">60</text>
<line x1="213.40" y1="275.80" x2="215.40" y2="275.80" stroke="#7a7a7a" stroke-width="0.8"/>
<line x1="211.90" y1="263.60" x2="215.40" y2="263.60" stroke="#7a7a7a" stroke-width="1"/>
<text x="210.90" y="266.20" font-family='"Liberation Sans", sans-serif' font-size="7.4" font-weight="normal" text-anchor="end" fill="#444">120</text>
<line x1="213.40" y1="251.40" x2="215.40" y2="251.40" stroke="#7a7a7a" stroke-width="0.8"/>
<line x1="211.90" y1="239.20" x2="215.40" y2="239.20" stroke="#7a7a7a" stroke-width="1"/>
<text x="210.90" y="241.80" font-family='"Liberation Sans", sans-serif' font-size="7.4" font-weight="normal" text-anchor="end" fill="#444">180</text>
<line x1="213.40" y1="227.00" x2="215.40" y2="227.00" stroke="#7a7a7a" stroke-width="0.8"/>
<line x1="211.90" y1="214.80" x2="215.40" y2="214.80" stroke="#7a7a7a" stroke-width="1"/>
<text x="210.90" y="217.40" font-family='"Liberation Sans", sans-serif' font-size="7.4" font-weight="normal" text-anchor="end" fill="#444">240</text>
<line x1="213.40" y1="202.60" x2="215.40" y2="202.60" stroke="#7a7a7a" stroke-width="0.8"/>
<line x1="211.90" y1="190.40" x2="215.40" y2="190.40" stroke="#7a7a7a" stroke-width="1"/>
<text x="210.90" y="193.00" font-family='"Liberation Sans", sans-serif' font-size="7.4" font-weight="normal" text-anchor="end" fill="#444">300</text>
<line x1="215.40" y1="312.40" x2="215.40" y2="315.40" stroke="#7a7a7a" stroke-width="1"/>
<text x="215.40" y="321.60" font-family='"Liberation Sans", sans-serif' font-size="7.4" font-weight="normal" text-anchor="middle" fill="#444">1</text>
<line x1="228.26" y1="312.40" x2="228.26" y2="314.20" stroke="#7a7a7a" stroke-width="0.7"/>
<line x1="235.79" y1="312.40" x2="235.79" y2="314.20" stroke="#7a7a7a" stroke-width="0.7"/>
<line x1="241.13" y1="312.40" x2="241.13" y2="314.20" stroke="#7a7a7a" stroke-width="0.7"/>
<line x1="245.27" y1="312.40" x2="245.27" y2="314.20" stroke="#7a7a7a" stroke-width="0.7"/>
<line x1="248.65" y1="312.40" x2="248.65" y2="314.20" stroke="#7a7a7a" stroke-width="0.7"/>
<line x1="251.51" y1="312.40" x2="251.51" y2="314.20" stroke="#7a7a7a" stroke-width="0.7"/>
<line x1="253.99" y1="312.40" x2="253.99" y2="314.20" stroke="#7a7a7a" stroke-width="0.7"/>
<line x1="256.18" y1="312.40" x2="256.18" y2="314.20" stroke="#7a7a7a" stroke-width="0.7"/>
<line x1="258.13" y1="312.40" x2="258.13" y2="315.40" stroke="#7a7a7a" stroke-width="1"/>
<text x="258.13" y="321.60" font-family='"Liberation Sans", sans-serif' font-size="7.4" font-weight="normal" text-anchor="middle" fill="#444">10</text>
<line x1="271.00" y1="312.40" x2="271.00" y2="314.20" stroke="#7a7a7a" stroke-width="0.7"/>
<line x1="278.52" y1="312.40" x2="278.52" y2="314.20" stroke="#7a7a7a" stroke-width="0.7"/>
<line x1="283.86" y1="312.40" x2="283.86" y2="314.20" stroke="#7a7a7a" stroke-width="0.7"/>
<line x1="288.00" y1="312.40" x2="288.00" y2="314.20" stroke="#7a7a7a" stroke-width="0.7"/>
<line x1="291.39" y1="312.40" x2="291.39" y2="314.20" stroke="#7a7a7a" stroke-width="0.7"/>
<line x1="294.25" y1="312.40" x2="294.25" y2="314.20" stroke="#7a7a7a" stroke-width="0.7"/>
<line x1="296.73" y1="312.40" x2="296.73" y2="314.20" stroke="#7a7a7a" stroke-width="0.7"/>
<line x1="298.91" y1="312.40" x2="298.91" y2="314.20" stroke="#7a7a7a" stroke-width="0.7"/>
<line x1="300.87" y1="312.40" x2="300.87" y2="315.40" stroke="#7a7a7a" stroke-width="1"/>
<text x="300.87" y="321.60" font-family='"Liberation Sans", sans-serif' font-size="7.4" font-weight="normal" text-anchor="middle" fill="#444">100</text>
<line x1="313.73" y1="312.40" x2="313.73" y2="314.20" stroke="#7a7a7a" stroke-width="0.7"/>
<line x1="321.26" y1="312.40" x2="321.26" y2="314.20" stroke="#7a7a7a" stroke-width="0.7"/>
<line x1="326.59" y1="312.40" x2="326.59" y2="314.20" stroke="#7a7a7a" stroke-width="0.7"/>
<line x1="330.74" y1="312.40" x2="330.74" y2="314.20" stroke="#7a7a7a" stroke-width="0.7"/>
<line x1="334.12" y1="312.40" x2="334.12" y2="314.20" stroke="#7a7a7a" stroke-width="0.7"/>
<line x1="336.98" y1="312.40" x2="336.98" y2="314.20" stroke="#7a7a7a" stroke-width="0.7"/>
<line x1="339.46" y1="312.40" x2="339.46" y2="314.20" stroke="#7a7a7a" stroke-width="0.7"/>
<line x1="341.64" y1="312.40" x2="341.64" y2="314.20" stroke="#7a7a7a" stroke-width="0.7"/>
<line x1="343.60" y1="312.40" x2="343.60" y2="315.40" stroke="#7a7a7a" stroke-width="1"/>
<text x="343.60" y="321.60" font-family='"Liberation Sans", sans-serif' font-size="7.4" font-weight="normal" text-anchor="middle" fill="#444">1000</text>
<line x1="257.00" y1="203.00" x2="257.00" y2="312.40" stroke="#666" stroke-width="1"/>
<line x1="343.20" y1="203.00" x2="343.20" y2="312.40" stroke="#666" stroke-width="2"/>
<line x1="257.00" y1="218.40" x2="343.20" y2="218.40" stroke="#666" stroke-width="1.1"/>
<text x="302.60" y="217.30" font-family='"Liberation Sans", sans-serif' font-size="7.2" font-weight="bold" text-anchor="middle" fill="#222">RN3</text>
<text x="269.00" y="186.40" font-family='"Liberation Serif", serif' font-size="9.3" font-weight="normal" text-anchor="middle" fill="#222">K562</text>
<text x="278.00" y="329.00" font-family='"Liberation Serif", serif' font-size="9" font-weight="bold" text-anchor="middle" fill="#111">7AAD</text>
<text x="190.00" y="250.00" font-family='"Liberation Serif", serif' font-size="9.2" font-weight="normal" text-anchor="middle" fill="#222" transform="rotate(-90 190 250)">Count</text>
<path d="M43.00,480.00L43.00,446.00L43.55,446.00L43.55,456.18L44.10,456.18L44.10,438.40L44.65,438.40L44.65,460.77L45.20,460.77L45.20,433.48L45.76,433.48L45.76,456.78L46.31,456.78L46.31,441.68L46.86,441.68L46.86,444.15L47.41,444.15L47.41,451.02L47.96,451.02L47.96,459.64L48.51,459.64L48.51,454.93L49.06,454.93L49.06,459.04L49.61,459.04L49.61,441.33L50.16,441.33L50.16,440.29L50.71,440.29L50.71,459.25L51.27,459.25L51.27,459.39L51.82,459.39L51.82,449.24L52.37,449.24L52.37,451.44L52.92,451.44L52.92,451.31L53.47,451.31L53.47,441.98L54.02,441.98L54.02,439.15L54.57,439.15L54.57,450.23L55.12,450.23L55.12,445.39L55.67,445.39L55.67,451.71L56.23,451.71L56.23,423.23L56.78,423.23L56.78,423.51L57.33,423.51L57.33,432.88L57.88,432.88L57.88,432.82L58.43,432.82L58.43,450.28L58.98,450.28L58.98,438.76L59.53,438.76L59.53,443.90L60.08,443.90L60.08,438.91L60.63,438.91L60.63,437.18L61.18,437.18L61.18,445.29L61.74,445.29L61.74,450.21L62.29,450.21L62.29,434.44L62.84,434.44L62.84,437.09L63.39,437.09L63.39,431.55L63.94,431.55L63.94,437.62L64.49,437.62L64.49,452.63L65.04,452.63L65.04,435.28L65.59,435.28L65.59,443.11L66.14,443.11L66.14,433.39L66.70,433.39L66.70,447.55L67.25,447.55L67.25,428.74L67.80,428.74L67.80,435.35L68.35,435.35L68.35,450.60L68.90,450.60L68.90,454.55L69.45,454.55L69.45,455.89L70.00,455.89L70.00,458.36L70.55,458.36L70.55,442.89L71.10,442.89L71.10,450.16L71.65,450.16L71.65,451.72L72.21,451.72L72.21,460.07L72.76,460.07L72.76,457.42L73.31,457.42L73.31,462.18L73.86,462.18L73.86,444.20L74.41,444.20L74.41,448.33L74.96,448.33L74.96,456.71L75.51,456.71L75.51,454.40L76.06,454.40L76.06,460.36L76.61,460.36L76.61,460.06L77.17,460.06L77.17,455.76L77.72,455.76L77.72,457.25L78.27,457.25L78.27,467.41L78.82,467.41L78.82,453.65L79.37,453.65L79.37,465.99L79.92,465.99L79.92,455.92L80.47,455.92L80.47,459.77L81.02,459.77L81.02,466.43L81.57,466.43L81.57,464.14L82.12,464.14L82.12,462.75L82.68,462.75L82.68,465.98L83.23,465.98L83.23,466.07L83.78,466.07L83.78,466.16L84.33,466.16L84.33,467.72L84.88,467.72L84.88,471.11L85.43,471.11L85.43,473.28L85.98,473.28L85.98,465.66L86.53,465.66L86.53,468.78L87.08,468.78L87.08,462.74L87.64,462.74L87.64,471.14L88.19,471.14L88.19,471.98L88.74,471.98L88.74,472.56L89.29,472.56L89.29,474.18L89.84,474.18L89.84,472.51L90.39,472.51L90.39,471.56L90.94,471.56L90.94,472.24L91.49,472.24L91.49,474.75L92.04,474.75L92.04,476.51L92.59,476.51L92.59,471.26L93.15,471.26L93.15,476.22L93.70,476.22L93.70,476.00L94.25,476.00L94.25,471.96L94.80,471.96L94.80,475.32L95.35,475.32L95.35,475.57L95.90,475.57L95.90,475.55L96.45,475.55L96.45,476.53L97.00,476.53L97.00,476.46L97.55,476.46L97.55,476.32L98.11,476.32L98.11,470.45L98.66,470.45L98.66,476.69L99.21,476.69L99.21,473.00L99.76,473.00L99.76,475.69L100.31,475.69L100.31,473.69L100.86,473.69L100.86,476.03L101.41,476.03L101.41,473.52L101.96,473.52L101.96,468.54L102.51,468.54L102.51,473.68L103.06,473.68L103.06,474.11L103.62,474.11L103.62,476.00L104.17,476.00L104.17,473.01L104.72,473.01L104.72,474.63L105.27,474.63L105.27,474.56L105.82,474.56L105.82,474.24L106.37,474.24L106.37,474.36L106.92,474.36L106.92,468.77L107.47,468.77L107.47,475.49L108.02,475.49L108.02,473.60L108.58,473.60L108.58,468.71L109.13,468.71L109.13,474.85L109.68,474.85L109.68,470.65L110.23,470.65L110.23,466.49L110.78,466.49L110.78,475.07L111.33,475.07L111.33,462.35L111.88,462.35L111.88,473.42L112.43,473.42L112.43,473.30L112.98,473.30L112.98,468.97L113.54,468.97L113.54,463.14L114.09,463.14L114.09,471.77L114.64,471.77L114.64,469.58L115.19,469.58L115.19,471.82L115.74,471.82L115.74,471.26L116.29,471.26L116.29,468.29L116.84,468.29L116.84,470.45L117.39,470.45L117.39,465.01L117.94,465.01L117.94,469.57L118.49,469.57L118.49,468.56L119.05,468.56L119.05,466.79L119.60,466.79L119.60,470.34L120.15,470.34L120.15,468.68L120.70,468.68L120.70,471.54L121.25,471.54L121.25,468.87L121.80,468.87L121.80,465.60L122.35,465.60L122.35,468.53L122.90,468.53L122.90,469.91L123.45,469.91L123.45,469.47L124.01,469.47L124.01,472.55L124.56,472.55L124.56,465.00L125.11,465.00L125.11,471.08L125.66,471.08L125.66,471.13L126.21,471.13L126.21,472.38L126.76,472.38L126.76,463.91L127.31,463.91L127.31,465.94L127.86,465.94L127.86,466.04L128.41,466.04L128.41,464.21L128.96,464.21L128.96,461.64L129.52,461.64L129.52,472.53L130.07,472.53L130.07,470.92L130.62,470.92L130.62,468.28L131.17,468.28L131.17,465.50L131.72,465.50L131.72,468.80L132.27,468.80L132.27,471.14L132.82,471.14L132.82,466.16L133.37,466.16L133.37,472.88L133.92,472.88L133.92,468.96L134.48,468.96L134.48,469.26L135.03,469.26L135.03,471.82L135.58,471.82L135.58,473.54L136.13,473.54L136.13,472.94L136.68,472.94L136.68,468.59L137.23,468.59L137.23,472.87L137.78,472.87L137.78,468.51L138.33,468.51L138.33,469.93L138.88,469.93L138.88,471.44L139.43,471.44L139.43,474.44L139.99,474.44L139.99,472.29L140.54,472.29L140.54,471.42L141.09,471.42L141.09,467.89L141.64,467.89L141.64,474.11L142.19,474.11L142.19,475.38L142.74,475.38L142.74,473.36L143.29,473.36L143.29,469.18L143.84,469.18L143.84,475.56L144.39,475.56L144.39,472.53L144.95,472.53L144.95,474.84L145.50,474.84L145.50,470.65L146.05,470.65L146.05,475.45L146.60,475.45L146.60,474.38L147.15,474.38L147.15,475.49L147.70,475.49L147.70,474.28L148.25,474.28L148.25,476.86L148.80,476.86L148.80,475.46L149.35,475.46L149.35,474.83L149.90,474.83L149.90,473.72L150.46,473.72L150.46,476.33L151.01,476.33L151.01,476.50L151.56,476.50L151.56,477.40L152.11,477.40L152.11,476.81L152.66,476.81L152.66,477.79L153.21,477.79L153.21,477.62L153.76,477.62L153.76,477.61L154.31,477.61L154.31,477.37L154.86,477.37L154.86,478.62L155.42,478.62L155.42,478.58L155.97,478.58L155.97,478.11L156.52,478.11L156.52,478.55L157.07,478.55L157.07,477.87L157.62,477.87L157.62,478.76L158.17,478.76L158.17,478.85L158.72,478.85L158.72,478.20L159.27,478.20L159.27,478.74L159.82,478.74L159.82,478.84L160.37,478.84L160.37,479.16L160.93,479.16L160.93,477.78L161.48,477.78L161.48,478.71L162.03,478.71L162.03,479.07L162.58,479.07L162.58,479.33L163.13,479.33L163.13,478.81L163.68,478.81L163.68,479.55L164.23,479.55L164.23,479.40L164.78,479.40L164.78,479.56L165.33,479.56L165.33,479.51L165.89,479.51L165.89,479.65L166.44,479.65L166.44,479.48L166.99,479.48L166.99,479.57L167.54,479.57L167.54,479.71L168.09,479.71L168.09,479.48L168.64,479.48L168.64,479.64L169.19,479.64L169.19,479.56L169.74,479.56L169.74,479.44L170.29,479.44L170.29,479.66L170.84,479.66L170.84,479.70L171.40,479.70L171.40,479.46L171.95,479.46L171.95,479.82L172.50,479.82L172.50,479.69L173.05,479.69L173.05,479.66L173.60,479.66L173.60,480.00Z" fill="#ff8000"/>
<line x1="43.00" y1="358.60" x2="173.60" y2="358.60" stroke="#7a7a7a" stroke-width="1.1"/>
<line x1="173.60" y1="358.60" x2="173.60" y2="480.00" stroke="#7a7a7a" stroke-width="1.1"/>
<line x1="43.00" y1="358.60" x2="43.00" y2="480.00" stroke="#7a7a7a" stroke-width="1.1"/>
<line x1="43.00" y1="480.00" x2="173.60" y2="480.00" stroke="#7a7a7a" stroke-width="1.1"/>
<line x1="39.50" y1="480.00" x2="43.00" y2="480.00" stroke="#7a7a7a" stroke-width="1"/>
<text x="38.50" y="482.60" font-family='"Liberation Sans", sans-serif' font-size="7.4" font-weight="normal" text-anchor="end" fill="#444">0</text>
<line x1="41.00" y1="467.86" x2="43.00" y2="467.86" stroke="#7a7a7a" stroke-width="0.8"/>
<line x1="39.50" y1="455.72" x2="43.00" y2="455.72" stroke="#7a7a7a" stroke-width="1"/>
<text x="38.50" y="458.32" font-family='"Liberation Sans", sans-serif' font-size="7.4" font-weight="normal" text-anchor="end" fill="#444">20</text>
<line x1="41.00" y1="443.58" x2="43.00" y2="443.58" stroke="#7a7a7a" stroke-width="0.8"/>
<line x1="39.50" y1="431.44" x2="43.00" y2="431.44" stroke="#7a7a7a" stroke-width="1"/>
<text x="38.50" y="434.04" font-family='"Liberation Sans", sans-serif' font-size="7.4" font-weight="normal" text-anchor="end" fill="#444">40</text>
<line x1="41.00" y1="419.30" x2="43.00" y2="419.30" stroke="#7a7a7a" stroke-width="0.8"/>
<line x1="39.50" y1="407.16" x2="43.00" y2="407.16" stroke="#7a7a7a" stroke-width="1"/>
<text x="38.50" y="409.76" font-family='"Liberation Sans", sans-serif' font-size="7.4" font-weight="normal" text-anchor="end" fill="#444">60</text>
<line x1="41.00" y1="395.02" x2="43.00" y2="395.02" stroke="#7a7a7a" stroke-width="0.8"/>
<line x1="39.50" y1="382.88" x2="43.00" y2="382.88" stroke="#7a7a7a" stroke-width="1"/>
<text x="38.50" y="385.48" font-family='"Liberation Sans", sans-serif' font-size="7.4" font-weight="normal" text-anchor="end" fill="#444">80</text>
<line x1="41.00" y1="370.74" x2="43.00" y2="370.74" stroke="#7a7a7a" stroke-width="0.8"/>
<line x1="39.50" y1="358.60" x2="43.00" y2="358.60" stroke="#7a7a7a" stroke-width="1"/>
<text x="38.50" y="361.20" font-family='"Liberation Sans", sans-serif' font-size="7.4" font-weight="normal" text-anchor="end" fill="#444">100</text>
<line x1="43.00" y1="480.00" x2="43.00" y2="483.00" stroke="#7a7a7a" stroke-width="1"/>
<text x="43.00" y="489.20" font-family='"Liberation Sans", sans-serif' font-size="7.4" font-weight="normal" text-anchor="middle" fill="#444">1</text>
<line x1="56.10" y1="480.00" x2="56.10" y2="481.80" stroke="#7a7a7a" stroke-width="0.7"/>
<line x1="63.77" y1="480.00" x2="63.77" y2="481.80" stroke="#7a7a7a" stroke-width="0.7"/>
<line x1="69.21" y1="480.00" x2="69.21" y2="481.80" stroke="#7a7a7a" stroke-width="0.7"/>
<line x1="73.43" y1="480.00" x2="73.43" y2="481.80" stroke="#7a7a7a" stroke-width="0.7"/>
<line x1="76.88" y1="480.00" x2="76.88" y2="481.80" stroke="#7a7a7a" stroke-width="0.7"/>
<line x1="79.79" y1="480.00" x2="79.79" y2="481.80" stroke="#7a7a7a" stroke-width="0.7"/>
<line x1="82.31" y1="480.00" x2="82.31" y2="481.80" stroke="#7a7a7a" stroke-width="0.7"/>
<line x1="84.54" y1="480.00" x2="84.54" y2="481.80" stroke="#7a7a7a" stroke-width="0.7"/>
<line x1="86.53" y1="480.00" x2="86.53" y2="483.00" stroke="#7a7a7a" stroke-width="1"/>
<text x="86.53" y="489.20" font-family='"Liberation Sans", sans-serif' font-size="7.4" font-weight="normal" text-anchor="middle" fill="#444">10</text>
<line x1="99.64" y1="480.00" x2="99.64" y2="481.80" stroke="#7a7a7a" stroke-width="0.7"/>
<line x1="107.30" y1="480.00" x2="107.30" y2="481.80" stroke="#7a7a7a" stroke-width="0.7"/>
<line x1="112.74" y1="480.00" x2="112.74" y2="481.80" stroke="#7a7a7a" stroke-width="0.7"/>
<line x1="116.96" y1="480.00" x2="116.96" y2="481.80" stroke="#7a7a7a" stroke-width="0.7"/>
<line x1="120.41" y1="480.00" x2="120.41" y2="481.80" stroke="#7a7a7a" stroke-width="0.7"/>
<line x1="123.32" y1="480.00" x2="123.32" y2="481.80" stroke="#7a7a7a" stroke-width="0.7"/>
<line x1="125.85" y1="480.00" x2="125.85" y2="481.80" stroke="#7a7a7a" stroke-width="0.7"/>
<line x1="128.07" y1="480.00" x2="128.07" y2="481.80" stroke="#7a7a7a" stroke-width="0.7"/>
<line x1="130.07" y1="480.00" x2="130.07" y2="483.00" stroke="#7a7a7a" stroke-width="1"/>
<text x="130.07" y="489.20" font-family='"Liberation Sans", sans-serif' font-size="7.4" font-weight="normal" text-anchor="middle" fill="#444">100</text>
<line x1="143.17" y1="480.00" x2="143.17" y2="481.80" stroke="#7a7a7a" stroke-width="0.7"/>
<line x1="150.84" y1="480.00" x2="150.84" y2="481.80" stroke="#7a7a7a" stroke-width="0.7"/>
<line x1="156.28" y1="480.00" x2="156.28" y2="481.80" stroke="#7a7a7a" stroke-width="0.7"/>
<line x1="160.50" y1="480.00" x2="160.50" y2="481.80" stroke="#7a7a7a" stroke-width="0.7"/>
<line x1="163.94" y1="480.00" x2="163.94" y2="481.80" stroke="#7a7a7a" stroke-width="0.7"/>
<line x1="166.86" y1="480.00" x2="166.86" y2="481.80" stroke="#7a7a7a" stroke-width="0.7"/>
<line x1="169.38" y1="480.00" x2="169.38" y2="481.80" stroke="#7a7a7a" stroke-width="0.7"/>
<line x1="171.61" y1="480.00" x2="171.61" y2="481.80" stroke="#7a7a7a" stroke-width="0.7"/>
<line x1="173.60" y1="480.00" x2="173.60" y2="483.00" stroke="#7a7a7a" stroke-width="1"/>
<text x="173.60" y="489.20" font-family='"Liberation Sans", sans-serif' font-size="7.4" font-weight="normal" text-anchor="middle" fill="#444">1000</text>
<line x1="86.60" y1="371.00" x2="86.60" y2="480.00" stroke="#666" stroke-width="1"/>
<line x1="167.00" y1="371.00" x2="167.00" y2="480.00" stroke="#666" stroke-width="1"/>
<line x1="86.60" y1="386.40" x2="167.00" y2="386.40" stroke="#666" stroke-width="1.1"/>
<text x="129.30" y="385.30" font-family='"Liberation Sans", sans-serif' font-size="7.2" font-weight="bold" text-anchor="middle" fill="#222">RN2</text>
<text x="110.00" y="354.50" font-family='"Liberation Serif", serif' font-size="9.3" font-weight="normal" text-anchor="middle" fill="#222">LRF-NK vs K562</text>
<text x="108.00" y="497.50" font-family='"Liberation Serif", serif' font-size="9" font-weight="bold" text-anchor="middle" fill="#111">Annexin V</text>
<text x="21.50" y="423.00" font-family='"Liberation Serif", serif' font-size="9.2" font-weight="normal" text-anchor="middle" fill="#222" transform="rotate(-90 21.5 423)">Count</text>
<path d="M218.00,480.00L218.00,457.59L218.55,457.59L218.55,456.24L219.10,456.24L219.10,450.53L219.65,450.53L219.65,455.52L220.20,455.52L220.20,458.95L220.76,458.95L220.76,432.81L221.31,432.81L221.31,430.41L221.86,430.41L221.86,442.64L222.41,442.64L222.41,434.98L222.96,434.98L222.96,449.67L223.51,449.67L223.51,456.37L224.06,456.37L224.06,447.47L224.61,447.47L224.61,446.10L225.16,446.10L225.16,438.13L225.71,438.13L225.71,447.87L226.27,447.87L226.27,450.47L226.82,450.47L226.82,436.53L227.37,436.53L227.37,444.61L227.92,444.61L227.92,450.77L228.47,450.77L228.47,448.40L229.02,448.40L229.02,435.89L229.57,435.89L229.57,425.06L230.12,425.06L230.12,436.67L230.67,436.67L230.67,431.89L231.23,431.89L231.23,448.46L231.78,448.46L231.78,429.31L232.33,429.31L232.33,437.11L232.88,437.11L232.88,453.84L233.43,453.84L233.43,457.74L233.98,457.74L233.98,450.27L234.53,450.27L234.53,448.96L235.08,448.96L235.08,447.79L235.63,447.79L235.63,449.30L236.18,449.30L236.18,452.83L236.74,452.83L236.74,444.54L237.29,444.54L237.29,452.50L237.84,452.50L237.84,451.37L238.39,451.37L238.39,453.97L238.94,453.97L238.94,453.82L239.49,453.82L239.49,450.93L240.04,450.93L240.04,448.18L240.59,448.18L240.59,464.19L241.14,464.19L241.14,452.86L241.70,452.86L241.70,458.49L242.25,458.49L242.25,458.56L242.80,458.56L242.80,453.11L243.35,453.11L243.35,463.61L243.90,463.61L243.90,464.89L244.45,464.89L244.45,451.23L245.00,451.23L245.00,466.04L245.55,466.04L245.55,464.14L246.10,464.14L246.10,465.90L246.65,465.90L246.65,461.22L247.21,461.22L247.21,462.71L247.76,462.71L247.76,469.16L248.31,469.16L248.31,461.01L248.86,461.01L248.86,461.68L249.41,461.68L249.41,465.93L249.96,465.93L249.96,462.61L250.51,462.61L250.51,464.33L251.06,464.33L251.06,468.49L251.61,468.49L251.61,465.50L252.17,465.50L252.17,466.78L252.72,466.78L252.72,472.86L253.27,472.86L253.27,469.44L253.82,469.44L253.82,464.92L254.37,464.92L254.37,471.42L254.92,471.42L254.92,472.69L255.47,472.69L255.47,468.53L256.02,468.53L256.02,471.70L256.57,471.70L256.57,474.10L257.12,474.10L257.12,469.65L257.68,469.65L257.68,470.80L258.23,470.80L258.23,471.20L258.78,471.20L258.78,471.68L259.33,471.68L259.33,467.29L259.88,467.29L259.88,475.53L260.43,475.53L260.43,471.78L260.98,471.78L260.98,475.57L261.53,475.57L261.53,473.09L262.08,473.09L262.08,472.82L262.64,472.82L262.64,474.61L263.19,474.61L263.19,473.93L263.74,473.93L263.74,476.12L264.29,476.12L264.29,474.98L264.84,474.98L264.84,473.96L265.39,473.96L265.39,470.98L265.94,470.98L265.94,475.65L266.49,475.65L266.49,476.31L267.04,476.31L267.04,476.50L267.59,476.50L267.59,476.29L268.15,476.29L268.15,474.95L268.70,474.95L268.70,476.60L269.25,476.60L269.25,475.85L269.80,475.85L269.80,475.11L270.35,475.11L270.35,471.09L270.90,471.09L270.90,476.77L271.45,476.77L271.45,475.99L272.00,475.99L272.00,472.12L272.55,472.12L272.55,474.48L273.11,474.48L273.11,474.93L273.66,474.93L273.66,476.74L274.21,476.74L274.21,475.47L274.76,475.47L274.76,476.44L275.31,476.44L275.31,476.95L275.86,476.95L275.86,475.95L276.41,475.95L276.41,476.21L276.96,476.21L276.96,474.33L277.51,474.33L277.51,475.86L278.06,475.86L278.06,475.47L278.62,475.47L278.62,475.55L279.17,475.55L279.17,476.69L279.72,476.69L279.72,476.87L280.27,476.87L280.27,472.09L280.82,472.09L280.82,476.20L281.37,476.20L281.37,476.24L281.92,476.24L281.92,474.71L282.47,474.71L282.47,475.63L283.02,475.63L283.02,476.96L283.58,476.96L283.58,476.70L284.13,476.70L284.13,476.17L284.68,476.17L284.68,476.36L285.23,476.36L285.23,474.20L285.78,474.20L285.78,475.32L286.33,475.32L286.33,474.61L286.88,474.61L286.88,476.79L287.43,476.79L287.43,474.13L287.98,474.13L287.98,476.46L288.54,476.46L288.54,475.47L289.09,475.47L289.09,470.60L289.64,470.60L289.64,474.57L290.19,474.57L290.19,472.33L290.74,472.33L290.74,474.30L291.29,474.30L291.29,473.84L291.84,473.84L291.84,472.93L292.39,472.93L292.39,475.53L292.94,475.53L292.94,468.98L293.49,468.98L293.49,473.52L294.05,473.52L294.05,465.21L294.60,465.21L294.60,475.39L295.15,475.39L295.15,474.61L295.70,474.61L295.70,466.69L296.25,466.69L296.25,473.80L296.80,473.80L296.80,470.54L297.35,470.54L297.35,471.36L297.90,471.36L297.90,474.42L298.45,474.42L298.45,470.66L299.01,470.66L299.01,471.66L299.56,471.66L299.56,470.12L300.11,470.12L300.11,465.55L300.66,465.55L300.66,465.30L301.21,465.30L301.21,471.31L301.76,471.31L301.76,470.46L302.31,470.46L302.31,469.09L302.86,469.09L302.86,466.43L303.41,466.43L303.41,467.69L303.96,467.69L303.96,472.88L304.52,472.88L304.52,472.34L305.07,472.34L305.07,467.12L305.62,467.12L305.62,467.02L306.17,467.02L306.17,466.34L306.72,466.34L306.72,469.37L307.27,469.37L307.27,467.01L307.82,467.01L307.82,464.12L308.37,464.12L308.37,467.65L308.92,467.65L308.92,466.01L309.48,466.01L309.48,469.52L310.03,469.52L310.03,471.08L310.58,471.08L310.58,469.22L311.13,469.22L311.13,466.42L311.68,466.42L311.68,469.07L312.23,469.07L312.23,466.18L312.78,466.18L312.78,472.35L313.33,472.35L313.33,468.39L313.88,468.39L313.88,466.77L314.43,466.77L314.43,468.36L314.99,468.36L314.99,469.26L315.54,469.26L315.54,468.64L316.09,468.64L316.09,469.00L316.64,469.00L316.64,469.43L317.19,469.43L317.19,473.16L317.74,473.16L317.74,461.41L318.29,461.41L318.29,474.52L318.84,474.52L318.84,470.68L319.39,470.68L319.39,474.81L319.95,474.81L319.95,473.18L320.50,473.18L320.50,468.98L321.05,468.98L321.05,472.10L321.60,472.10L321.60,472.22L322.15,472.22L322.15,474.01L322.70,474.01L322.70,475.18L323.25,475.18L323.25,472.05L323.80,472.05L323.80,471.02L324.35,471.02L324.35,477.04L324.90,477.04L324.90,472.35L325.46,472.35L325.46,476.12L326.01,476.12L326.01,476.27L326.56,476.27L326.56,474.66L327.11,474.66L327.11,476.76L327.66,476.76L327.66,476.53L328.21,476.53L328.21,476.92L328.76,476.92L328.76,477.74L329.31,477.74L329.31,475.65L329.86,475.65L329.86,478.91L330.42,478.91L330.42,478.48L330.97,478.48L330.97,479.26L331.52,479.26L331.52,479.45L332.07,479.45L332.07,479.54L332.62,479.54L332.62,479.33L333.17,479.33L333.17,479.43L333.72,479.43L333.72,479.31L334.27,479.31L334.27,479.51L334.82,479.51L334.82,479.39L335.37,479.39L335.37,479.39L335.93,479.39L335.93,479.51L336.48,479.51L336.48,479.40L337.03,479.40L337.03,479.34L337.58,479.34L337.58,479.39L338.13,479.39L338.13,479.45L338.68,479.45L338.68,479.68L339.23,479.68L339.23,479.70L339.78,479.70L339.78,479.72L340.33,479.72L340.33,479.61L340.89,479.61L340.89,479.66L341.44,479.66L341.44,479.50L341.99,479.50L341.99,479.67L342.54,479.67L342.54,479.53L343.09,479.53L343.09,479.64L343.64,479.64L343.64,479.75L344.19,479.75L344.19,479.67L344.74,479.67L344.74,479.64L345.29,479.64L345.29,479.77L345.84,479.77L345.84,479.79L346.40,479.79L346.40,479.71L346.95,479.71L346.95,479.74L347.50,479.74L347.50,479.72L348.05,479.72L348.05,479.80L348.60,479.80L348.60,480.00Z" fill="#ff0000"/>
<line x1="218.00" y1="358.60" x2="348.60" y2="358.60" stroke="#7a7a7a" stroke-width="1.1"/>
<line x1="348.60" y1="358.60" x2="348.60" y2="480.00" stroke="#7a7a7a" stroke-width="1.1"/>
<line x1="218.00" y1="358.60" x2="218.00" y2="480.00" stroke="#7a7a7a" stroke-width="1.1"/>
<line x1="218.00" y1="480.00" x2="348.60" y2="480.00" stroke="#7a7a7a" stroke-width="1.1"/>
<line x1="214.50" y1="480.00" x2="218.00" y2="480.00" stroke="#7a7a7a" stroke-width="1"/>
<text x="213.50" y="482.60" font-family='"Liberation Sans", sans-serif' font-size="7.4" font-weight="normal" text-anchor="end" fill="#444">0</text>
<line x1="216.00" y1="467.86" x2="218.00" y2="467.86" stroke="#7a7a7a" stroke-width="0.8"/>
<line x1="214.50" y1="455.72" x2="218.00" y2="455.72" stroke="#7a7a7a" stroke-width="1"/>
<text x="213.50" y="458.32" font-family='"Liberation Sans", sans-serif' font-size="7.4" font-weight="normal" text-anchor="end" fill="#444">20</text>
<line x1="216.00" y1="443.58" x2="218.00" y2="443.58" stroke="#7a7a7a" stroke-width="0.8"/>
<line x1="214.50" y1="431.44" x2="218.00" y2="431.44" stroke="#7a7a7a" stroke-width="1"/>
<text x="213.50" y="434.04" font-family='"Liberation Sans", sans-serif' font-size="7.4" font-weight="normal" text-anchor="end" fill="#444">40</text>
<line x1="216.00" y1="419.30" x2="218.00" y2="419.30" stroke="#7a7a7a" stroke-width="0.8"/>
<line x1="214.50" y1="407.16" x2="218.00" y2="407.16" stroke="#7a7a7a" stroke-width="1"/>
<text x="213.50" y="409.76" font-family='"Liberation Sans", sans-serif' font-size="7.4" font-weight="normal" text-anchor="end" fill="#444">60</text>
<line x1="216.00" y1="395.02" x2="218.00" y2="395.02" stroke="#7a7a7a" stroke-width="0.8"/>
<line x1="214.50" y1="382.88" x2="218.00" y2="382.88" stroke="#7a7a7a" stroke-width="1"/>
<text x="213.50" y="385.48" font-family='"Liberation Sans", sans-serif' font-size="7.4" font-weight="normal" text-anchor="end" fill="#444">80</text>
<line x1="216.00" y1="370.74" x2="218.00" y2="370.74" stroke="#7a7a7a" stroke-width="0.8"/>
<line x1="214.50" y1="358.60" x2="218.00" y2="358.60" stroke="#7a7a7a" stroke-width="1"/>
<text x="213.50" y="361.20" font-family='"Liberation Sans", sans-serif' font-size="7.4" font-weight="normal" text-anchor="end" fill="#444">100</text>
<line x1="218.00" y1="480.00" x2="218.00" y2="483.00" stroke="#7a7a7a" stroke-width="1"/>
<text x="218.00" y="489.20" font-family='"Liberation Sans", sans-serif' font-size="7.4" font-weight="normal" text-anchor="middle" fill="#444">1</text>
<line x1="231.10" y1="480.00" x2="231.10" y2="481.80" stroke="#7a7a7a" stroke-width="0.7"/>
<line x1="238.77" y1="480.00" x2="238.77" y2="481.80" stroke="#7a7a7a" stroke-width="0.7"/>
<line x1="244.21" y1="480.00" x2="244.21" y2="481.80" stroke="#7a7a7a" stroke-width="0.7"/>
<line x1="248.43" y1="480.00" x2="248.43" y2="481.80" stroke="#7a7a7a" stroke-width="0.7"/>
<line x1="251.88" y1="480.00" x2="251.88" y2="481.80" stroke="#7a7a7a" stroke-width="0.7"/>
<line x1="254.79" y1="480.00" x2="254.79" y2="481.80" stroke="#7a7a7a" stroke-width="0.7"/>
<line x1="257.31" y1="480.00" x2="257.31" y2="481.80" stroke="#7a7a7a" stroke-width="0.7"/>
<line x1="259.54" y1="480.00" x2="259.54" y2="481.80" stroke="#7a7a7a" stroke-width="0.7"/>
<line x1="261.53" y1="480.00" x2="261.53" y2="483.00" stroke="#7a7a7a" stroke-width="1"/>
<text x="261.53" y="489.20" font-family='"Liberation Sans", sans-serif' font-size="7.4" font-weight="normal" text-anchor="middle" fill="#444">10</text>
<line x1="274.64" y1="480.00" x2="274.64" y2="481.80" stroke="#7a7a7a" stroke-width="0.7"/>
<line x1="282.30" y1="480.00" x2="282.30" y2="481.80" stroke="#7a7a7a" stroke-width="0.7"/>
<line x1="287.74" y1="480.00" x2="287.74" y2="481.80" stroke="#7a7a7a" stroke-width="0.7"/>
<line x1="291.96" y1="480.00" x2="291.96" y2="481.80" stroke="#7a7a7a" stroke-width="0.7"/>
<line x1="295.41" y1="480.00" x2="295.41" y2="481.80" stroke="#7a7a7a" stroke-width="0.7"/>
<line x1="298.32" y1="480.00" x2="298.32" y2="481.80" stroke="#7a7a7a" stroke-width="0.7"/>
<line x1="300.85" y1="480.00" x2="300.85" y2="481.80" stroke="#7a7a7a" stroke-width="0.7"/>
<line x1="303.07" y1="480.00" x2="303.07" y2="481.80" stroke="#7a7a7a" stroke-width="0.7"/>
<line x1="305.07" y1="480.00" x2="305.07" y2="483.00" stroke="#7a7a7a" stroke-width="1"/>
<text x="305.07" y="489.20" font-family='"Liberation Sans", sans-serif' font-size="7.4" font-weight="normal" text-anchor="middle" fill="#444">100</text>
<line x1="318.17" y1="480.00" x2="318.17" y2="481.80" stroke="#7a7a7a" stroke-width="0.7"/>
<line x1="325.84" y1="480.00" x2="325.84" y2="481.80" stroke="#7a7a7a" stroke-width="0.7"/>
<line x1="331.28" y1="480.00" x2="331.28" y2="481.80" stroke="#7a7a7a" stroke-width="0.7"/>
<line x1="335.50" y1="480.00" x2="335.50" y2="481.80" stroke="#7a7a7a" stroke-width="0.7"/>
<line x1="338.94" y1="480.00" x2="338.94" y2="481.80" stroke="#7a7a7a" stroke-width="0.7"/>
<line x1="341.86" y1="480.00" x2="341.86" y2="481.80" stroke="#7a7a7a" stroke-width="0.7"/>
<line x1="344.38" y1="480.00" x2="344.38" y2="481.80" stroke="#7a7a7a" stroke-width="0.7"/>
<line x1="346.61" y1="480.00" x2="346.61" y2="481.80" stroke="#7a7a7a" stroke-width="0.7"/>
<line x1="348.60" y1="480.00" x2="348.60" y2="483.00" stroke="#7a7a7a" stroke-width="1"/>
<text x="348.60" y="489.20" font-family='"Liberation Sans", sans-serif' font-size="7.4" font-weight="normal" text-anchor="middle" fill="#444">1000</text>
<line x1="260.30" y1="371.00" x2="260.30" y2="480.00" stroke="#666" stroke-width="1"/>
<line x1="348.00" y1="371.00" x2="348.00" y2="480.00" stroke="#666" stroke-width="2"/>
<line x1="260.30" y1="386.40" x2="348.00" y2="386.40" stroke="#666" stroke-width="1.1"/>
<text x="306.65" y="385.30" font-family='"Liberation Sans", sans-serif' font-size="7.2" font-weight="bold" text-anchor="middle" fill="#222">RN3</text>
<text x="279.00" y="355.00" font-family='"Liberation Serif", serif' font-size="9.3" font-weight="normal" text-anchor="middle" fill="#222">LRF-NK vs K562</text>
<text x="283.60" y="497.50" font-family='"Liberation Serif", serif' font-size="9" font-weight="bold" text-anchor="middle" fill="#111">7AAD</text>
<text x="196.00" y="422.00" font-family='"Liberation Serif", serif' font-size="9.2" font-weight="normal" text-anchor="middle" fill="#222" transform="rotate(-90 196 422)">Count</text>
<line x1="17.00" y1="498.50" x2="266.00" y2="498.50" stroke="#ececec" stroke-width="1"/>
<line x1="357.50" y1="355.00" x2="357.50" y2="497.00" stroke="#f1f1f1" stroke-width="1"/>
<text x="3.00" y="12.00" font-family='"Liberation Serif", serif' font-size="14.5" font-weight="bold" text-anchor="start" fill="#111">A</text>
<text x="10.00" y="80.30" font-family='"Liberation Serif", serif' font-size="13.3" font-weight="normal" text-anchor="middle" fill="#111" transform="rotate(-90 10 80.3)">Spontaneous lysis</text>
<text x="11.80" y="248.50" font-family='"Liberation Serif", serif' font-size="13.8" font-weight="normal" text-anchor="middle" fill="#111" transform="rotate(-90 11.8 248.5)">Maximumlysis</text>
<text x="10.00" y="418.00" font-family='"Liberation Serif", serif' font-size="12.7" font-weight="normal" text-anchor="middle" fill="#111" transform="rotate(-90 10 418)">Experimental lysis</text>
<text x="373.50" y="18.00" font-family='"Liberation Serif", serif' font-size="14.5" font-weight="bold" text-anchor="start" fill="#111">B</text>
<line x1="429.40" y1="16.00" x2="429.40" y2="159.40" stroke="#555" stroke-width="1.2"/>
<line x1="429.40" y1="159.40" x2="604.40" y2="159.40" stroke="#555" stroke-width="1.2"/>
<line x1="425.90" y1="159.40" x2="429.40" y2="159.40" stroke="#555" stroke-width="1"/>
<text x="424.60" y="162.40" font-family='"Liberation Serif", serif' font-size="8.7" font-weight="normal" text-anchor="end" fill="#333">0</text>
<line x1="425.90" y1="130.72" x2="429.40" y2="130.72" stroke="#555" stroke-width="1"/>
<text x="424.60" y="133.72" font-family='"Liberation Serif", serif' font-size="8.7" font-weight="normal" text-anchor="end" fill="#333">20</text>
<line x1="425.90" y1="102.04" x2="429.40" y2="102.04" stroke="#555" stroke-width="1"/>
<text x="424.60" y="105.04" font-family='"Liberation Serif", serif' font-size="8.7" font-weight="normal" text-anchor="end" fill="#333">40</text>
<line x1="425.90" y1="73.36" x2="429.40" y2="73.36" stroke="#555" stroke-width="1"/>
<text x="424.60" y="76.36" font-family='"Liberation Serif", serif' font-size="8.7" font-weight="normal" text-anchor="end" fill="#333">60</text>
<line x1="425.90" y1="44.68" x2="429.40" y2="44.68" stroke="#555" stroke-width="1"/>
<text x="424.60" y="47.68" font-family='"Liberation Serif", serif' font-size="8.7" font-weight="normal" text-anchor="end" fill="#333">80</text>
<line x1="425.90" y1="16.00" x2="429.40" y2="16.00" stroke="#555" stroke-width="1"/>
<text x="424.60" y="19.00" font-family='"Liberation Serif", serif' font-size="8.7" font-weight="normal" text-anchor="end" fill="#333">100</text>
<text x="390.00" y="89.00" font-family='"Liberation Serif", serif' font-size="12.5" font-weight="normal" text-anchor="middle" fill="#111" transform="rotate(-90 390 89)">K562 lysis (%)</text>
<line x1="451.50" y1="146.49" x2="451.50" y2="147.93" stroke="#444" stroke-width="1"/>
<line x1="446.30" y1="146.49" x2="456.70" y2="146.49" stroke="#444" stroke-width="1.1"/>
<rect x="440.40" y="147.93" width="21.20" height="11.47" fill="#a2a2a6" stroke="#3a3a3a" stroke-width="1"/>
<line x1="451.50" y1="159.40" x2="451.50" y2="163.40" stroke="#555" stroke-width="1"/>
<line x1="487.50" y1="26.04" x2="487.50" y2="30.34" stroke="#444" stroke-width="1"/>
<line x1="482.30" y1="26.04" x2="492.70" y2="26.04" stroke="#444" stroke-width="1.1"/>
<rect x="477.00" y="30.34" width="21.40" height="129.06" fill="#a2a2a6" stroke="#3a3a3a" stroke-width="1"/>
<line x1="487.50" y1="159.40" x2="487.50" y2="163.40" stroke="#555" stroke-width="1"/>
<line x1="524.50" y1="113.51" x2="524.50" y2="117.81" stroke="#444" stroke-width="1"/>
<line x1="519.30" y1="113.51" x2="529.70" y2="113.51" stroke="#444" stroke-width="1.1"/>
<rect x="513.40" y="117.81" width="21.20" height="41.59" fill="#a2a2a6" stroke="#3a3a3a" stroke-width="1"/>
<line x1="524.50" y1="159.40" x2="524.50" y2="163.40" stroke="#555" stroke-width="1"/>
<line x1="560.50" y1="119.25" x2="560.50" y2="122.12" stroke="#444" stroke-width="1"/>
<line x1="555.30" y1="119.25" x2="565.70" y2="119.25" stroke="#444" stroke-width="1.1"/>
<rect x="550.40" y="122.12" width="21.00" height="37.28" fill="url(#pl)" stroke="#3a3a3a" stroke-width="1"/>
<line x1="560.50" y1="159.40" x2="560.50" y2="163.40" stroke="#555" stroke-width="1"/>
<line x1="586.50" y1="114.95" x2="586.50" y2="119.25" stroke="#444" stroke-width="1"/>
<line x1="581.30" y1="114.95" x2="591.70" y2="114.95" stroke="#444" stroke-width="1.1"/>
<rect x="576.00" y="119.25" width="21.00" height="40.15" fill="url(#pd)" stroke="#3a3a3a" stroke-width="1"/>
<line x1="586.50" y1="159.40" x2="586.50" y2="163.40" stroke="#555" stroke-width="1"/>
<text x="456.00" y="174.50" font-family='"Liberation Serif", serif' font-size="13.1" font-weight="normal" text-anchor="end" fill="#111" transform="rotate(-45 456.0 174.5)">Spontaneous lysis</text>
<text x="492.70" y="174.50" font-family='"Liberation Serif", serif' font-size="13.1" font-weight="normal" text-anchor="end" fill="#111" transform="rotate(-45 492.7 174.5)">Maximum Lysis</text>
<text x="529.00" y="174.50" font-family='"Liberation Serif", serif' font-size="13.1" font-weight="normal" text-anchor="end" fill="#111" transform="rotate(-45 529.0 174.5)">Experimental lysis</text>
<text x="565.90" y="174.50" font-family='"Liberation Serif", serif' font-size="13.1" font-weight="normal" text-anchor="end" fill="#111" transform="rotate(-45 565.9 174.5)">Specific lysis</text>
<text x="591.50" y="174.50" font-family='"Liberation Serif", serif' font-size="13.1" font-weight="normal" text-anchor="end" fill="#111" transform="rotate(-45 591.5 174.5)">Specific lysis</text>
<line x1="560.40" y1="109.40" x2="586.60" y2="109.40" stroke="#333" stroke-width="1"/>
<line x1="560.40" y1="107.60" x2="560.40" y2="111.20" stroke="#333" stroke-width="1"/>
<line x1="586.60" y1="107.60" x2="586.60" y2="111.20" stroke="#333" stroke-width="1"/>
<text x="573.40" y="104.00" font-family='"Liberation Serif", serif' font-size="10.5" font-weight="normal" text-anchor="middle" fill="#333">ns</text>
<rect x="557" y="19" width="10.6" height="5.4" fill="url(#pl)" stroke="#555" stroke-width="0.8"/>
<rect x="557" y="31" width="10.6" height="5.6" fill="url(#pd)" stroke="#333" stroke-width="0.8"/>
<text x="573.60" y="24.80" font-family='"Liberation Serif", serif' font-size="8.8" font-weight="normal" text-anchor="start" fill="#333">LRF-NK</text>
<text x="573.60" y="37.20" font-family='"Liberation Serif", serif' font-size="8.8" font-weight="normal" text-anchor="start" fill="#333">PB-NK</text>
<text x="374.50" y="298.50" font-family='"Liberation Serif", serif' font-size="15.5" font-weight="bold" text-anchor="start" fill="#111">C</text>
<line x1="427.60" y1="304.50" x2="427.60" y2="480.50" stroke="#333" stroke-width="1.3"/>
<line x1="427.60" y1="480.50" x2="683.00" y2="480.50" stroke="#333" stroke-width="1.3"/>
<line x1="424.00" y1="480.50" x2="427.60" y2="480.50" stroke="#333" stroke-width="1.1"/>
<text x="422.60" y="483.30" font-family='"Liberation Serif", serif' font-size="7.8" font-weight="bold" text-anchor="end" fill="#222">0</text>
<line x1="424.00" y1="436.50" x2="427.60" y2="436.50" stroke="#333" stroke-width="1.1"/>
<text x="422.60" y="439.30" font-family='"Liberation Serif", serif' font-size="7.8" font-weight="bold" text-anchor="end" fill="#222">10</text>
<line x1="424.00" y1="392.50" x2="427.60" y2="392.50" stroke="#333" stroke-width="1.1"/>
<text x="422.60" y="395.30" font-family='"Liberation Serif", serif' font-size="7.8" font-weight="bold" text-anchor="end" fill="#222">20</text>
<line x1="424.00" y1="348.50" x2="427.60" y2="348.50" stroke="#333" stroke-width="1.1"/>
<text x="422.60" y="351.30" font-family='"Liberation Serif", serif' font-size="7.8" font-weight="bold" text-anchor="end" fill="#222">30</text>
<line x1="424.00" y1="304.50" x2="427.60" y2="304.50" stroke="#333" stroke-width="1.1"/>
<text x="422.60" y="307.30" font-family='"Liberation Serif", serif' font-size="7.8" font-weight="bold" text-anchor="end" fill="#222">40</text>
<text x="410.00" y="391.00" font-family='"Liberation Serif", serif' font-size="12.4" font-weight="normal" text-anchor="middle" fill="#111" transform="rotate(-90 410 391)">Specific lysis of target cells(%)</text>
<line x1="453.50" y1="356.86" x2="453.50" y2="366.10" stroke="#606060" stroke-width="1"/>
<line x1="447.10" y1="356.86" x2="459.90" y2="356.86" stroke="#606060" stroke-width="1.05"/>
<rect x="441.00" y="366.10" width="24.60" height="114.40" fill="url(#cl)" stroke="#444" stroke-width="1"/>
<line x1="453.50" y1="480.50" x2="453.50" y2="484.50" stroke="#333" stroke-width="1.1"/>
<line x1="486.50" y1="342.34" x2="486.50" y2="355.98" stroke="#606060" stroke-width="1"/>
<line x1="480.10" y1="342.34" x2="492.90" y2="342.34" stroke="#606060" stroke-width="1.05"/>
<rect x="473.60" y="355.98" width="26.00" height="124.52" fill="url(#cd)" stroke="#444" stroke-width="1"/>
<line x1="486.50" y1="480.50" x2="486.50" y2="484.50" stroke="#333" stroke-width="1.1"/>
<line x1="538.50" y1="388.10" x2="538.50" y2="401.30" stroke="#606060" stroke-width="1"/>
<line x1="532.10" y1="388.10" x2="544.90" y2="388.10" stroke="#606060" stroke-width="1.05"/>
<rect x="525.40" y="401.30" width="25.20" height="79.20" fill="url(#cl)" stroke="#444" stroke-width="1"/>
<line x1="538.50" y1="480.50" x2="538.50" y2="484.50" stroke="#333" stroke-width="1.1"/>
<line x1="572.50" y1="370.06" x2="572.50" y2="396.90" stroke="#606060" stroke-width="1"/>
<line x1="566.10" y1="370.06" x2="578.90" y2="370.06" stroke="#606060" stroke-width="1.05"/>
<rect x="559.00" y="396.90" width="26.00" height="83.60" fill="url(#cd)" stroke="#444" stroke-width="1"/>
<line x1="572.50" y1="480.50" x2="572.50" y2="484.50" stroke="#333" stroke-width="1.1"/>
<line x1="623.50" y1="389.42" x2="623.50" y2="405.70" stroke="#606060" stroke-width="1"/>
<line x1="617.10" y1="389.42" x2="629.90" y2="389.42" stroke="#606060" stroke-width="1.05"/>
<rect x="610.60" y="405.70" width="25.40" height="74.80" fill="url(#cl)" stroke="#444" stroke-width="1"/>
<line x1="623.50" y1="480.50" x2="623.50" y2="484.50" stroke="#333" stroke-width="1.1"/>
<line x1="656.50" y1="387.22" x2="656.50" y2="398.22" stroke="#606060" stroke-width="1"/>
<line x1="650.10" y1="387.22" x2="662.90" y2="387.22" stroke="#606060" stroke-width="1.05"/>
<rect x="644.00" y="398.22" width="25.70" height="82.28" fill="url(#cd)" stroke="#444" stroke-width="1"/>
<line x1="656.50" y1="480.50" x2="656.50" y2="484.50" stroke="#333" stroke-width="1.1"/>
<text x="455.80" y="494.00" font-family='"Liberation Serif", serif' font-size="9.4" font-weight="normal" text-anchor="end" fill="#222" transform="rotate(-45 455.8 494)">LRF + K562</text>
<text x="489.10" y="494.00" font-family='"Liberation Serif", serif' font-size="9.4" font-weight="normal" text-anchor="end" fill="#222" transform="rotate(-45 489.1 494)">PB + K562</text>
<text x="540.50" y="494.00" font-family='"Liberation Serif", serif' font-size="9.4" font-weight="normal" text-anchor="end" fill="#222" transform="rotate(-45 540.5 494)">LRF + U266-B1</text>
<text x="574.50" y="494.00" font-family='"Liberation Serif", serif' font-size="9.4" font-weight="normal" text-anchor="end" fill="#222" transform="rotate(-45 574.5 494)">PB + U266-B1</text>
<text x="625.80" y="494.00" font-family='"Liberation Serif", serif' font-size="9.4" font-weight="normal" text-anchor="end" fill="#222" transform="rotate(-45 625.8 494)">LRF + CCRF-CEM</text>
<text x="659.35" y="494.00" font-family='"Liberation Serif", serif' font-size="9.4" font-weight="normal" text-anchor="end" fill="#222" transform="rotate(-45 659.35 494)">PB + CCRF-CEM</text>
<line x1="449.40" y1="308.40" x2="620.60" y2="308.40" stroke="#555" stroke-width="1"/>
<line x1="449.40" y1="306.40" x2="449.40" y2="310.40" stroke="#555" stroke-width="1"/>
<line x1="620.60" y1="306.40" x2="620.60" y2="310.40" stroke="#555" stroke-width="1"/>
<text x="534.60" y="307.50" font-family='"Liberation Sans", sans-serif' font-size="10" font-weight="bold" text-anchor="middle" fill="#111">*</text>
<line x1="449.40" y1="327.60" x2="538.40" y2="327.60" stroke="#555" stroke-width="1"/>
<line x1="449.40" y1="325.60" x2="449.40" y2="329.60" stroke="#555" stroke-width="1"/>
<line x1="538.40" y1="325.60" x2="538.40" y2="329.60" stroke="#555" stroke-width="1"/>
<text x="494.00" y="327.50" font-family='"Liberation Sans", sans-serif' font-size="10" font-weight="bold" text-anchor="middle" fill="#111">*</text>
<line x1="451.60" y1="339.00" x2="485.60" y2="339.00" stroke="#555" stroke-width="1"/>
<line x1="451.60" y1="337.00" x2="451.60" y2="341.00" stroke="#555" stroke-width="1"/>
<line x1="485.60" y1="337.00" x2="485.60" y2="341.00" stroke="#555" stroke-width="1"/>
<text x="468.40" y="335.50" font-family='"Liberation Serif", serif' font-size="8" font-weight="normal" text-anchor="middle" fill="#333">ns</text>
<line x1="536.00" y1="364.00" x2="571.60" y2="364.00" stroke="#555" stroke-width="1"/>
<line x1="536.00" y1="362.00" x2="536.00" y2="366.00" stroke="#555" stroke-width="1"/>
<line x1="571.60" y1="362.00" x2="571.60" y2="366.00" stroke="#555" stroke-width="1"/>
<text x="553.60" y="360.10" font-family='"Liberation Serif", serif' font-size="8" font-weight="normal" text-anchor="middle" fill="#333">ns</text>
<line x1="622.20" y1="380.40" x2="655.50" y2="380.40" stroke="#555" stroke-width="1"/>
<line x1="622.20" y1="378.40" x2="622.20" y2="382.40" stroke="#555" stroke-width="1"/>
<line x1="655.50" y1="378.40" x2="655.50" y2="382.40" stroke="#555" stroke-width="1"/>
<text x="639.00" y="376.50" font-family='"Liberation Serif", serif' font-size="8" font-weight="normal" text-anchor="middle" fill="#333">ns</text>
</svg></body></html>
